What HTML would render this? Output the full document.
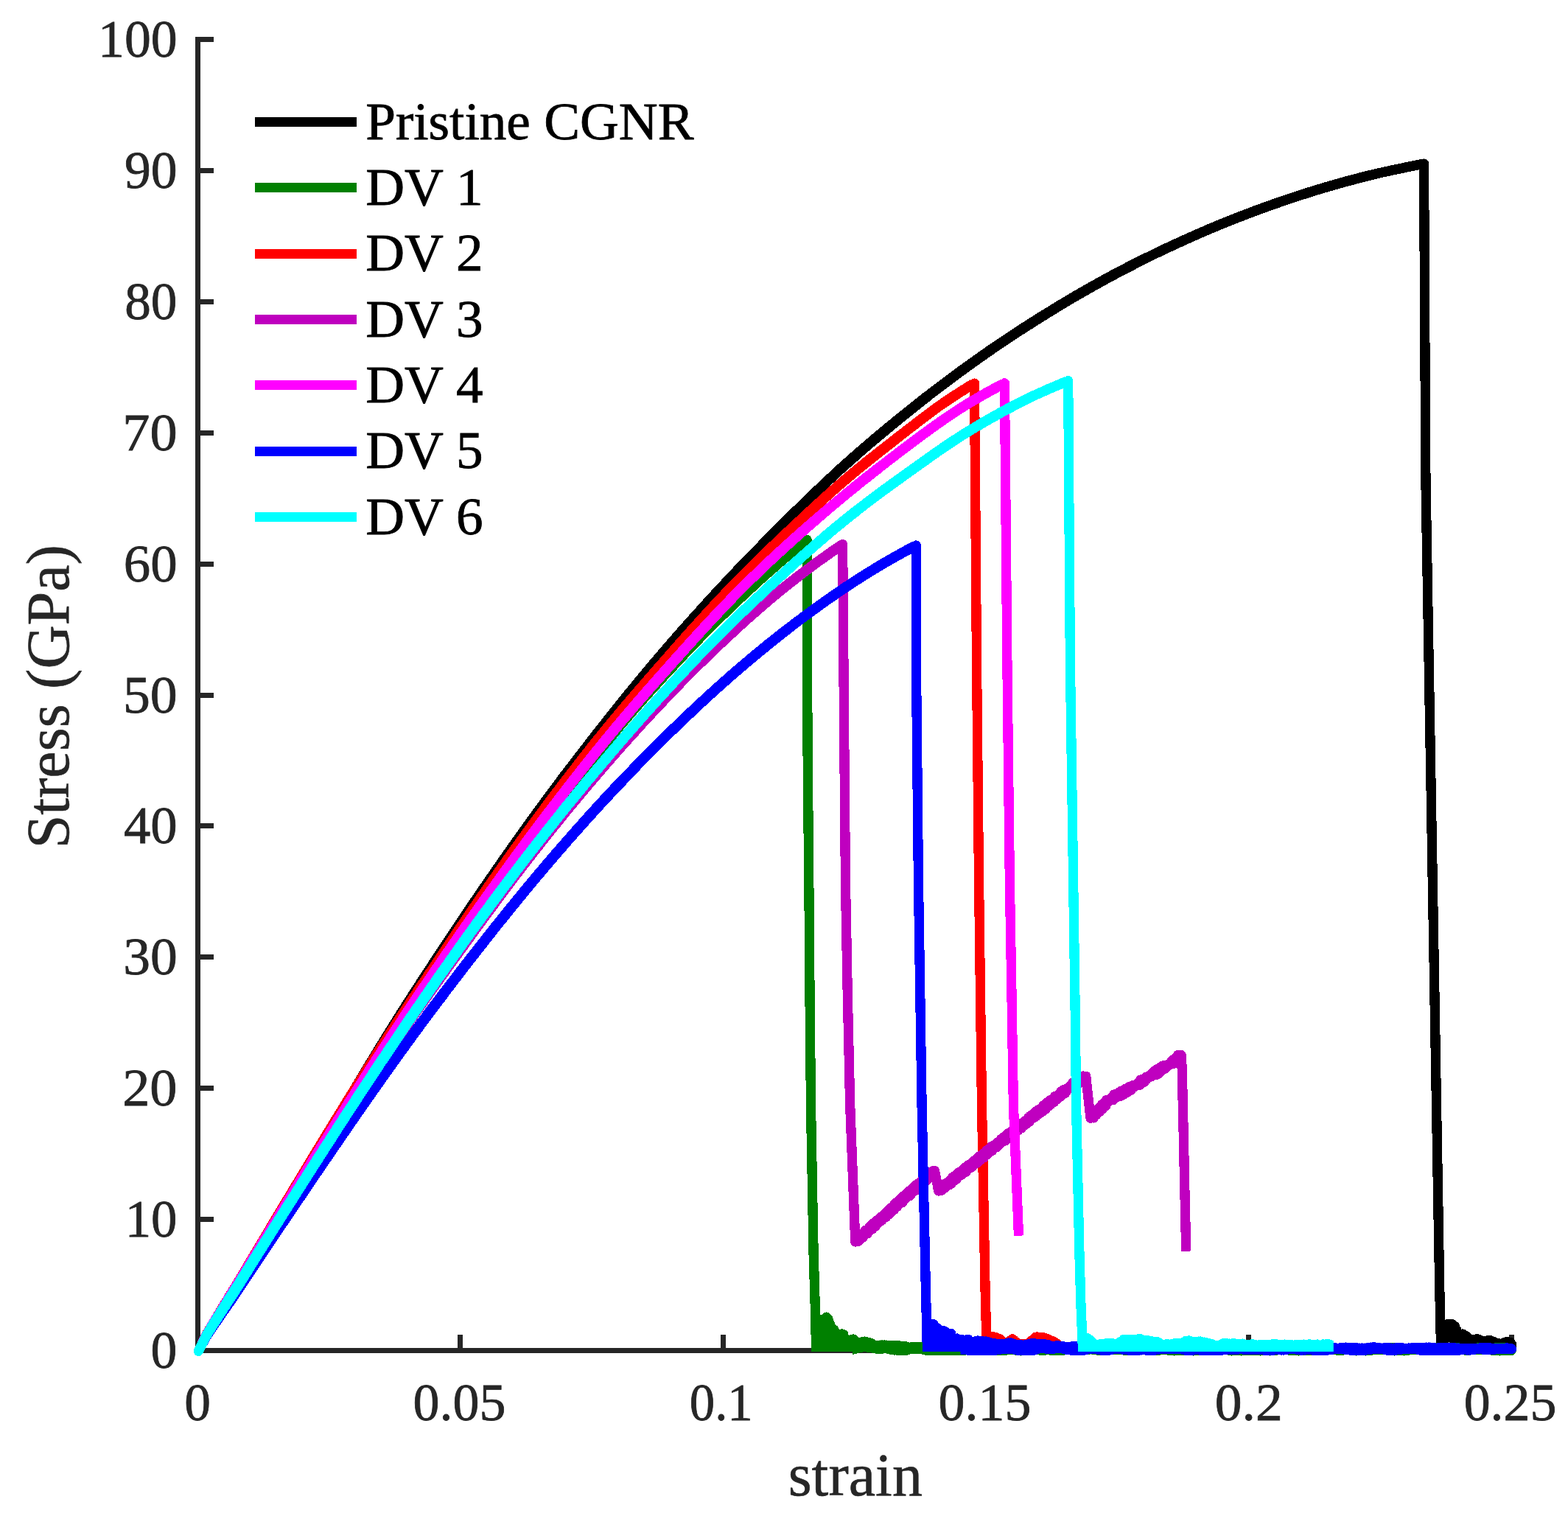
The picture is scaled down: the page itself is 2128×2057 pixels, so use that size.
<!DOCTYPE html>
<html lang="en"><head><meta charset="utf-8"><title>Stress-strain curves</title>
<style>html,body{margin:0;padding:0;background:#fff}body{width:2128px;height:2057px;overflow:hidden}svg{display:block}text{font-family:"Liberation Serif","Times New Roman",serif}.t{font-size:73.0px;fill:#262626;stroke:#262626;stroke-width:0.8}.l{font-size:82.0px;fill:#262626;stroke:#262626;stroke-width:0.6}.g{font-size:73.2px;fill:#000;stroke:#000;stroke-width:0.8}</style></head><body>
<svg width="2128" height="2057" viewBox="0 0 2128 2057" role="img" aria-label="Stress-strain curves for pristine CGNR and DV 1 to DV 6">
<rect width="2128" height="2057" fill="#fff"/>
<g stroke="#262626" stroke-width="7.0" fill="none" stroke-linecap="butt" shape-rendering="crispEdges">
<path d="M268.50,50.00 V1832.50 H2055.00"/>
<path d="M268.50,1654.50 h21.5"/>
<path d="M268.50,1476.50 h21.5"/>
<path d="M268.50,1298.50 h21.5"/>
<path d="M268.50,1120.50 h21.5"/>
<path d="M268.50,943.50 h21.5"/>
<path d="M268.50,765.50 h21.5"/>
<path d="M268.50,587.50 h21.5"/>
<path d="M268.50,409.50 h21.5"/>
<path d="M268.50,231.50 h21.5"/>
<path d="M268.50,53.50 h21.5"/>
<path d="M624.50,1832.50 v-21.5"/>
<path d="M981.50,1832.50 v-21.5"/>
<path d="M1338.50,1832.50 v-21.5"/>
<path d="M1694.50,1832.50 v-21.5"/>
<path d="M2051.50,1832.50 v-21.5"/>
</g>
<g fill="none" stroke="#000000" stroke-linejoin="round" shape-rendering="crispEdges">
<polyline stroke-width="13.25" stroke-linecap="butt" points="269.4,1833.4 274.3,1823.5 279.3,1813.7"/>
<polyline stroke-width="13.5" stroke-linecap="butt" points="274.3,1823.5 279.3,1813.7 285.5,1803.7"/>
<polyline stroke-width="13.75" stroke-linecap="butt" points="279.3,1813.7 285.5,1803.7 291.8,1794.0"/>
<polyline stroke-width="14.0" stroke-linecap="butt" points="285.5,1803.7 291.8,1794.0 298.0,1784.4"/>
<polyline stroke-width="14.25" stroke-linecap="butt" points="291.8,1794.0 298.0,1784.4 304.2,1774.7 310.4,1765.0"/>
<polyline stroke-width="14.5" stroke-linecap="butt" points="304.2,1774.7 310.4,1765.0 316.6,1755.2"/>
<polyline stroke-width="14.75" stroke-linecap="butt" points="310.4,1765.0 316.6,1755.2 322.8,1745.4 328.8,1735.5 334.9,1725.6 340.9,1715.7 346.9,1705.7 353.0,1695.7 359.0,1685.6 365.0,1675.6 371.0,1665.5 377.1,1655.4 383.1,1645.3 389.1,1635.2 395.2,1625.0 401.2,1614.9 407.2,1604.7 413.2,1594.5 419.3,1584.3 425.3,1574.1 431.3,1563.8 437.4,1553.6 443.4,1543.4 449.4,1533.1 455.4,1522.9 461.5,1512.7 467.5,1502.5 473.5,1492.3 479.6,1482.2 485.6,1472.0 491.6,1461.9 497.6,1451.9 503.7,1441.9 509.7,1431.9 515.7,1422.0 521.8,1412.2 527.8,1402.5 533.8,1392.8 539.8,1383.2 545.9,1373.6 551.9,1364.2 557.9,1354.8 564.0,1345.4 570.0,1336.1 576.0,1326.8 582.0,1317.6 588.1,1308.4 594.1,1299.2 600.1,1290.1 606.2,1281.0 612.2,1271.9 618.2,1262.9 624.2,1253.8 630.3,1244.9 636.3,1235.9 642.3,1227.0 648.4,1218.1 654.4,1209.3 660.4,1200.5 666.5,1191.8 672.5,1183.1 678.5,1174.4 684.5,1165.8 690.6,1157.2 696.6,1148.6 702.6,1140.1 708.7,1131.7 714.7,1123.3 720.7,1114.9 726.7,1106.6 732.8,1098.3 738.8,1090.1 744.8,1081.9 750.9,1073.8 756.9,1065.7 762.9,1057.6 768.9,1049.6 775.0,1041.7"/>
<polyline stroke-width="14.5" stroke-linecap="butt" points="768.9,1049.6 775.0,1041.7 781.0,1033.8 787.0,1025.9 793.1,1018.1 799.1,1010.3 805.1,1002.5 811.1,994.8 817.2,987.1 823.2,979.5 829.2,971.8 835.3,964.3 841.3,956.8 847.3,949.3 853.3,941.8 859.4,934.5 865.4,927.1 871.4,919.8 877.5,912.6 883.5,905.4 889.5,898.2 895.5,891.2 901.6,884.1 907.6,877.1 913.6,870.2 919.7,863.3 925.7,856.4 931.7,849.6 937.7,842.9 943.8,836.1 949.8,829.5 955.8,822.8 961.9,816.2 967.9,809.6 973.9,803.1 979.9,796.6 986.0,790.2 992.0,783.8 998.0,777.4 1004.1,771.0"/>
<polyline stroke-width="14.25" stroke-linecap="butt" points="998.0,777.4 1004.1,771.0 1010.1,764.7 1016.1,758.4 1022.2,752.2 1028.2,746.0 1034.2,739.9 1040.2,733.7 1046.3,727.6 1052.3,721.6 1058.3,715.6 1064.4,709.6 1070.4,703.6 1076.4,697.6 1082.4,691.7 1088.5,685.8 1094.5,680.0 1100.5,674.1 1106.6,668.3 1112.6,662.6 1118.6,656.9 1124.6,651.2 1130.7,645.6 1136.7,640.0 1142.7,634.5 1148.8,629.1 1154.8,623.7 1160.8,618.4 1166.8,613.1 1172.9,607.9 1178.9,602.7 1184.9,597.6 1191.0,592.5 1197.0,587.5 1203.0,582.5 1209.0,577.5 1215.1,572.6 1221.1,567.7 1227.1,562.8 1233.2,557.9 1239.2,553.1 1245.2,548.3 1251.2,543.5 1257.3,538.8"/>
<polyline stroke-width="14.0" stroke-linecap="butt" points="1251.2,543.5 1257.3,538.8 1263.3,534.1 1269.3,529.5 1275.4,524.9 1281.4,520.4 1287.4,515.9 1293.4,511.4 1299.5,507.0 1305.5,502.5 1311.5,498.2 1317.6,493.8 1323.6,489.5 1329.6,485.2 1335.6,481.0 1341.7,476.8 1347.7,472.6 1353.7,468.5 1359.8,464.4 1365.8,460.4 1371.8,456.4 1377.8,452.4 1383.9,448.5 1389.9,444.6 1395.9,440.8 1402.0,436.9 1408.0,433.1 1414.0,429.3 1420.1,425.6 1426.1,421.9 1432.1,418.2 1438.1,414.5 1444.2,410.9 1450.2,407.3 1456.2,403.7 1462.3,400.2 1468.3,396.7 1474.3,393.3 1480.3,389.9 1486.4,386.5 1492.4,383.2 1498.4,379.8 1504.5,376.6 1510.5,373.3 1516.5,370.1 1522.5,366.9 1528.6,363.8 1534.6,360.7 1540.6,357.6"/>
<polyline stroke-width="13.75" stroke-linecap="butt" points="1534.6,360.7 1540.6,357.6 1546.7,354.6 1552.7,351.5 1558.7,348.6 1564.7,345.6 1570.8,342.7 1576.8,339.8 1582.8,337.0 1588.9,334.2 1594.9,331.4 1600.9,328.6 1606.9,325.9 1613.0,323.2 1619.0,320.5 1625.0,317.8 1631.1,315.2 1637.1,312.6 1643.1,310.0 1649.1,307.5 1655.2,305.0 1661.2,302.5 1667.2,300.1 1673.3,297.7 1679.3,295.3 1685.3,293.0 1691.3,290.7 1697.4,288.4 1703.4,286.1 1709.4,283.9 1715.5,281.7 1721.5,279.5 1727.5,277.4 1733.5,275.3 1739.6,273.2 1745.6,271.1 1751.6,269.1 1757.7,267.1 1763.7,265.1 1769.7,263.2 1775.8,261.3 1781.8,259.4 1787.8,257.5 1793.8,255.7 1799.9,253.9 1805.9,252.2 1811.9,250.4 1818.0,248.7 1824.0,247.0 1830.0,245.4 1836.0,243.8 1842.1,242.2 1848.1,240.6 1854.1,239.1 1860.2,237.7 1866.2,236.2"/>
<polyline stroke-width="13.5" stroke-linecap="butt" points="1860.2,237.7 1866.2,236.2 1872.2,234.8 1878.2,233.4 1884.3,232.1 1890.3,230.8 1896.3,229.5 1902.4,228.3 1908.4,227.0 1914.4,225.8 1920.4,224.5 1926.5,223.3 1930.1,222.6"/>
<circle cx="269.4" cy="1833.4" r="6.62" fill="#000000" stroke="none"/>
<circle cx="1932.5" cy="222.1" r="6.65" fill="#000000" stroke="none"/>
<clipPath id="cblack"><path d="M0,0H2128.0 V2057 H2128.0 V1834.0 H0Z"/></clipPath>
<g clip-path="url(#cblack)">
<polyline stroke-width="13.3" stroke-linecap="butt" points="1932.5,222.1 1934.9,650.0 1953.8,1750.0 1955.5,1824.0"/>
<polyline stroke-width="13.0" stroke-linecap="round" points="1956.5,1814.8 1957.8,1822.1 1959.1,1811.4 1960.4,1819.0 1961.7,1803.4 1963.0,1815.7 1964.3,1796.7 1965.6,1814.3 1966.9,1796.5 1968.2,1814.5 1969.5,1796.1 1970.8,1816.4 1972.1,1797.5 1973.4,1822.9 1974.7,1799.5 1976.0,1826.5 1977.3,1805.2 1978.6,1826.9 1979.9,1811.0 1981.2,1827.0 1982.5,1809.9 1983.8,1827.0 1985.1,1809.9 1986.4,1827.0 1987.7,1811.5 1989.0,1827.0 1990.3,1813.2 1991.6,1827.0 1992.9,1815.5 1994.2,1827.0 1995.5,1817.7 1996.8,1827.0 1998.1,1817.7 1999.4,1826.9 2000.7,1817.3 2002.0,1826.9 2003.3,1816.8 2004.6,1826.5 2005.9,1816.9 2007.2,1825.9 2008.5,1818.2 2009.8,1825.8 2011.1,1819.6 2012.4,1826.1 2013.7,1819.6 2015.0,1826.4 2016.3,1819.2 2017.6,1826.7 2018.9,1818.8 2020.2,1826.9 2021.5,1818.3 2022.8,1827.0 2024.1,1819.2 2025.4,1827.0 2026.7,1820.2 2028.0,1827.0 2029.3,1821.3 2030.6,1827.0 2031.9,1822.1 2033.2,1827.0 2034.5,1822.8 2035.8,1826.9 2037.1,1823.4 2038.4,1826.5 2039.7,1822.4 2041.0,1825.9 2042.3,1821.3 2043.6,1825.5 2044.9,1820.2 2046.2,1825.6 2047.5,1820.7 2048.8,1826.1 2050.1,1821.3 2051.4,1826.3 2051.7,1824.2"/>
</g>
</g>
<g fill="none" stroke="#008000" stroke-linejoin="round" shape-rendering="crispEdges">
<polyline stroke-width="13.25" stroke-linecap="butt" points="269.4,1833.4 274.3,1823.1 279.4,1812.7"/>
<polyline stroke-width="13.5" stroke-linecap="butt" points="274.3,1823.1 279.4,1812.7 285.7,1802.4"/>
<polyline stroke-width="13.75" stroke-linecap="butt" points="279.4,1812.7 285.7,1802.4 292.0,1792.4"/>
<polyline stroke-width="14.0" stroke-linecap="butt" points="285.7,1802.4 292.0,1792.4 298.2,1782.4"/>
<polyline stroke-width="14.25" stroke-linecap="butt" points="292.0,1792.4 298.2,1782.4 304.5,1772.4"/>
<polyline stroke-width="14.5" stroke-linecap="butt" points="298.2,1782.4 304.5,1772.4 310.7,1762.5 317.0,1752.6"/>
<polyline stroke-width="14.75" stroke-linecap="butt" points="310.7,1762.5 317.0,1752.6 323.2,1742.6 329.3,1732.7 335.4,1722.7 341.5,1712.8 347.6,1702.8 353.6,1692.9 359.7,1683.0 365.8,1673.1 371.9,1663.2 377.9,1653.3 384.0,1643.4 390.1,1633.6 396.2,1623.8 402.3,1614.0 408.3,1604.2 414.4,1594.4 420.5,1584.7 426.6,1575.0 432.6,1565.3 438.7,1555.7 444.8,1546.1 450.9,1536.5 457.0,1526.9 463.0,1517.3 469.1,1507.8 475.2,1498.3 481.3,1488.8 487.3,1479.3 493.4,1469.9 499.5,1460.4 505.6,1451.1 511.7,1441.7 517.7,1432.4 523.8,1423.1 529.9,1413.9 536.0,1404.7 542.0,1395.5 548.1,1386.4 554.2,1377.3 560.3,1368.2 566.4,1359.2 572.4,1350.3 578.5,1341.3 584.6,1332.5 590.7,1323.6 596.7,1314.8 602.8,1306.1 608.9,1297.3 615.0,1288.7 621.0,1280.0 627.1,1271.5 633.2,1262.9 639.3,1254.4 645.4,1245.9 651.4,1237.4 657.5,1229.0 663.6,1220.5 669.7,1212.1 675.7,1203.7 681.8,1195.2 687.9,1186.8 694.0,1178.3 700.1,1169.9 706.1,1161.4 712.2,1153.0 718.3,1144.6 724.4,1136.2 730.4,1127.9 736.5,1119.6 742.6,1111.3 748.7,1103.1 754.8,1094.9 760.8,1086.8 766.9,1078.7 773.0,1070.6 779.1,1062.6"/>
<polyline stroke-width="14.5" stroke-linecap="butt" points="773.0,1070.6 779.1,1062.6 785.1,1054.7 791.2,1046.8 797.3,1039.0 803.4,1031.2 809.5,1023.5 815.5,1015.9 821.6,1008.3 827.7,1000.8 833.8,993.5 839.8,986.2 845.9,979.0 852.0,971.8 858.1,964.8 864.2,957.8 870.2,950.9 876.3,944.0 882.4,937.2 888.5,930.5 894.5,923.8 900.6,917.1 906.7,910.5 912.8,904.0 918.9,897.5 924.9,891.0 931.0,884.6"/>
<polyline stroke-width="14.25" stroke-linecap="butt" points="924.9,891.0 931.0,884.6 937.1,878.3 943.2,872.0 949.2,865.7 955.3,859.5 961.4,853.4 967.5,847.3 973.5,841.3 979.6,835.3 985.7,829.4 991.8,823.5 997.9,817.7 1003.9,812.0 1010.0,806.3 1016.1,800.6 1022.2,795.0 1028.2,789.4 1034.3,783.9 1040.4,778.5 1046.5,773.1 1052.6,767.7 1058.6,762.4 1064.7,757.2 1070.8,752.1 1076.9,747.0 1082.9,742.1 1089.0,737.2 1093.1,733.9"/>
<circle cx="269.4" cy="1833.4" r="6.62" fill="#008000" stroke="none"/>
<circle cx="1095.1" cy="732.3" r="6.65" fill="#008000" stroke="none"/>
<clipPath id="cgreen"><path d="M0,0H2128.0 V2057 H1157.0 V1834.0 H0Z"/></clipPath>
<g clip-path="url(#cgreen)">
<polyline stroke-width="13.3" stroke-linecap="butt" points="1095.1,732.3 1096.0,1010.0 1098.3,1250.0 1099.0,1350.0 1100.5,1500.0 1104.1,1700.0 1106.5,1780.0 1107.5,1826.0 1107.6,1845.0"/>
<polyline stroke-width="13.0" stroke-linecap="round" points="1108.6,1808.6 1109.9,1839.4 1111.2,1802.9 1112.5,1839.4 1113.8,1790.3 1115.1,1839.4 1116.4,1790.2 1117.7,1839.4 1119.0,1790.6 1120.3,1839.4 1121.6,1786.9 1122.9,1839.4 1124.2,1789.6 1125.5,1839.4 1126.8,1796.7 1128.1,1839.4 1129.4,1802.0 1130.7,1839.4 1132.0,1804.1 1133.3,1839.4 1134.6,1809.5 1135.9,1839.4 1137.2,1809.7 1138.5,1839.4 1139.8,1811.9 1141.1,1839.4 1142.4,1809.7 1143.7,1839.4 1145.0,1810.7 1146.3,1834.9 1147.6,1817.3 1148.9,1831.9 1150.2,1818.0 1151.5,1831.6 1152.8,1818.0 1154.1,1831.6 1155.4,1817.4 1156.7,1831.5 1158.0,1816.9 1159.3,1831.0 1160.6,1819.2 1161.9,1830.1 1163.2,1821.5 1164.5,1829.2 1165.8,1821.4 1167.1,1828.6 1168.4,1820.9 1169.7,1828.1 1171.0,1820.1 1172.3,1827.8 1173.6,1820.0 1174.9,1828.0 1176.2,1820.7 1177.5,1828.3 1178.8,1821.3 1180.1,1828.5 1181.4,1822.0 1182.7,1828.9 1184.0,1823.4 1185.3,1829.4 1186.6,1825.2 1187.9,1829.9 1189.2,1826.0 1190.5,1830.4 1191.8,1825.7 1193.1,1830.8 1194.4,1825.0 1195.7,1830.6 1197.0,1824.9 1198.3,1830.1 1199.6,1824.9 1200.9,1830.0 1202.2,1825.0 1203.5,1830.1 1204.8,1825.1 1206.1,1830.5 1207.4,1825.2 1208.7,1831.2 1210.0,1825.3 1211.3,1831.8 1212.6,1825.4 1213.9,1832.1 1215.2,1825.6 1216.5,1832.1 1217.8,1825.8 1219.1,1832.2 1220.4,1825.9 1221.7,1832.4 1223.0,1826.0 1224.3,1832.6 1225.6,1826.1 1226.9,1832.7 1228.2,1826.5 1229.5,1832.4 1230.8,1827.4 1232.1,1831.7 1233.4,1828.0 1234.7,1831.0 1236.0,1827.9 1237.3,1830.7 1238.6,1827.3 1239.9,1830.6 1241.2,1827.1 1242.5,1830.6 1243.8,1827.2 1245.1,1830.7 1246.4,1827.3 1247.7,1830.7 1249.0,1827.3 1250.3,1830.8 1251.6,1827.3 1252.9,1831.2 1254.2,1827.3 1255.5,1831.9 1256.8,1827.3 1258.1,1832.7 1259.4,1827.4 1260.7,1833.0 1262.0,1827.5 1263.3,1833.0 1264.6,1827.5 1265.9,1833.0 1267.2,1827.6 1268.5,1833.0 1269.8,1827.7 1271.1,1833.0 1272.4,1827.8 1273.7,1833.0 1275.0,1827.8 1276.3,1832.9 1277.6,1828.0 1278.9,1832.7 1280.2,1828.1 1281.5,1832.6 1282.8,1828.3 1284.1,1832.8 1285.4,1828.5 1286.7,1832.9 1288.0,1828.7 1289.3,1833.0 1290.6,1828.9 1291.9,1833.0 1293.2,1829.1 1294.5,1832.9 1295.8,1829.2 1297.1,1832.9 1298.4,1829.4 1299.7,1832.9 1301.0,1829.4 1302.3,1833.0 1303.6,1829.1 1304.9,1832.9 1306.2,1828.5 1307.5,1832.7 1308.8,1828.4 1310.1,1832.1 1311.4,1828.4 1312.7,1831.5 1314.0,1828.6 1315.3,1831.4 1316.6,1829.4 1317.9,1831.4 1319.2,1829.7 1320.5,1831.5 1321.8,1829.6 1323.1,1831.4 1324.4,1829.2 1325.7,1831.3 1327.0,1829.1 1328.3,1831.2 1329.6,1829.4 1330.9,1831.2 1332.2,1829.6 1333.5,1831.5 1334.8,1829.7 1336.1,1832.7 1337.4,1829.6 1338.7,1833.0 1340.0,1829.2 1341.3,1833.0 1342.6,1828.6 1343.9,1832.7 1345.2,1828.5 1346.5,1832.0 1347.8,1828.4 1349.1,1831.7 1350.4,1828.4 1351.7,1831.9 1353.0,1828.4 1354.3,1832.5 1355.6,1828.5 1356.9,1832.8 1358.2,1828.5 1359.5,1832.8 1360.8,1828.7 1362.1,1832.8 1363.4,1828.9 1364.7,1832.5 1366.0,1829.6 1367.3,1832.0 1368.6,1829.8 1369.9,1831.5 1371.2,1829.8 1372.5,1831.4 1373.8,1829.8 1375.1,1831.5 1376.4,1829.8 1377.7,1832.1 1379.0,1829.8 1380.3,1832.8 1381.6,1829.8 1382.9,1833.0 1384.2,1829.7 1385.5,1833.0 1386.8,1829.7 1388.1,1833.0 1389.4,1829.4 1390.7,1833.0 1392.0,1829.0 1393.3,1833.0 1394.6,1828.7 1395.9,1832.6 1397.2,1828.6 1398.5,1831.9 1399.8,1828.8 1401.1,1831.6 1402.4,1829.2 1403.7,1831.7 1405.0,1829.5 1406.3,1831.8 1407.6,1829.3 1408.9,1832.0 1410.2,1829.0 1411.5,1832.3 1412.8,1828.8 1414.1,1832.4 1415.4,1828.8 1416.7,1832.3 1418.0,1829.0 1419.3,1832.1 1420.6,1829.3 1421.9,1831.9 1423.2,1829.7 1424.5,1832.0 1425.8,1829.8 1427.1,1832.5 1428.4,1829.8 1429.7,1832.8 1431.0,1829.8 1432.3,1832.9 1433.6,1829.6 1434.9,1832.9 1436.2,1828.8 1437.5,1832.9 1438.8,1828.5 1440.1,1832.8 1441.4,1828.5 1442.7,1832.3 1444.0,1828.6 1445.3,1831.7 1446.6,1828.8 1447.9,1831.4 1449.2,1828.9 1450.5,1831.4 1451.8,1828.8 1453.1,1831.8 1454.4,1828.7 1455.7,1832.6 1457.0,1828.7 1458.3,1832.9 1459.6,1828.7 1460.9,1832.8 1462.2,1828.7 1463.5,1832.2 1464.8,1829.2 1466.1,1831.4 1467.4,1829.7 1468.7,1831.2 1470.0,1829.8 1471.3,1831.2 1472.6,1829.8 1473.9,1831.2 1475.2,1829.8 1476.5,1831.2 1477.8,1829.8 1479.1,1831.2 1480.4,1829.8 1481.7,1831.2 1483.0,1829.8 1484.3,1831.3 1485.6,1829.7 1486.9,1831.8 1488.2,1829.4 1489.5,1832.3 1490.8,1829.0 1492.1,1832.3 1493.4,1828.7 1494.7,1831.9 1496.0,1828.6 1497.3,1831.5 1498.6,1828.5 1499.9,1831.4 1501.2,1828.6 1502.5,1831.4 1503.8,1829.0 1505.1,1831.4 1506.4,1829.3 1507.7,1831.4 1509.0,1828.9 1510.3,1831.4 1511.6,1828.5 1512.9,1831.4 1514.2,1828.5 1515.5,1831.5 1516.8,1828.5 1518.1,1831.6 1519.4,1828.5 1520.7,1831.7 1522.0,1828.5 1523.3,1832.0 1524.6,1828.6 1525.9,1832.5 1527.2,1828.9 1528.5,1832.8 1529.8,1829.7 1531.1,1833.0 1532.4,1829.8 1533.7,1833.0 1535.0,1829.8 1536.3,1833.0 1537.6,1829.8 1538.9,1832.9 1540.2,1829.5 1541.5,1832.3 1542.8,1829.1 1544.1,1831.6 1545.4,1829.0 1546.7,1831.4 1548.0,1829.3 1549.3,1831.4 1550.6,1829.6 1551.9,1831.4 1553.2,1829.6 1554.5,1831.5 1555.8,1829.6 1557.1,1831.7 1558.4,1829.6 1559.7,1832.0 1561.0,1829.6 1562.3,1832.5 1563.6,1829.5 1564.9,1832.8 1566.2,1829.1 1567.5,1832.9 1568.8,1828.9 1570.1,1832.8 1571.4,1829.0 1572.7,1832.4 1574.0,1829.2 1575.3,1831.6 1576.6,1829.1 1577.9,1831.3 1579.2,1828.7 1580.5,1831.3 1581.8,1828.6 1583.1,1831.4 1584.4,1828.5 1585.7,1832.2 1587.0,1828.5 1588.3,1832.9 1589.6,1828.6 1590.9,1833.0 1592.2,1828.7 1593.5,1833.0 1594.8,1828.6 1596.1,1833.0 1597.4,1828.5 1598.7,1833.0 1600.0,1828.5 1601.3,1833.0 1602.6,1828.6 1603.9,1832.9 1605.2,1829.0 1606.5,1832.8 1607.8,1829.6 1609.1,1832.8 1610.4,1829.8 1611.7,1832.9 1613.0,1829.7 1614.3,1833.0 1615.6,1829.3 1616.9,1833.0 1618.2,1828.9 1619.5,1833.0 1620.8,1828.8 1622.1,1833.0 1623.4,1828.7 1624.7,1833.0 1626.0,1828.6 1627.3,1832.9 1628.6,1828.6 1629.9,1832.6 1631.2,1828.6 1632.5,1832.3 1633.8,1828.9 1635.1,1832.3 1636.4,1829.4 1637.7,1832.4 1639.0,1829.6 1640.3,1832.5 1641.6,1829.4 1642.9,1832.6 1644.2,1828.9 1645.5,1832.7 1646.8,1828.6 1648.1,1832.7 1649.4,1828.6 1650.7,1832.6 1652.0,1828.6 1653.3,1832.2 1654.6,1828.6 1655.9,1831.7 1657.2,1828.6 1658.5,1831.4 1659.8,1828.6 1661.1,1831.3 1662.4,1828.7 1663.7,1831.4 1665.0,1828.8 1666.3,1831.9 1667.6,1828.9 1668.9,1832.7 1670.2,1828.9 1671.5,1833.0 1672.8,1829.2 1674.1,1833.0 1675.4,1829.7 1676.7,1833.0 1678.0,1829.8 1679.3,1833.0 1680.6,1829.8 1681.9,1833.0 1683.2,1829.9 1684.5,1833.0 1685.8,1829.8 1687.1,1832.9 1688.4,1829.5 1689.7,1832.8 1691.0,1829.2 1692.3,1832.6 1693.6,1829.2 1694.9,1832.7 1696.2,1829.6 1697.5,1832.9 1698.8,1829.8 1700.1,1833.0 1701.4,1829.9 1702.7,1833.0 1704.0,1829.9 1705.3,1833.0 1706.6,1829.9 1707.9,1833.0 1709.2,1829.9 1710.5,1833.0 1711.8,1829.8 1713.1,1833.0 1714.4,1829.6 1715.7,1833.0 1717.0,1829.3 1718.3,1833.0 1719.6,1829.0 1720.9,1833.0 1722.2,1828.9 1723.5,1833.0 1724.8,1828.9 1726.1,1833.0 1727.4,1829.0 1728.7,1832.9 1730.0,1829.4 1731.3,1832.5 1732.6,1829.8 1733.9,1831.7 1735.2,1829.9 1736.5,1831.3 1737.8,1829.9 1739.1,1831.3 1740.4,1829.9 1741.7,1831.3 1743.0,1829.9 1744.3,1831.3 1745.6,1829.8 1746.9,1831.6 1748.2,1829.8 1749.5,1832.2 1750.8,1829.7 1752.1,1832.7 1753.4,1829.5 1754.7,1832.9 1756.0,1829.3 1757.3,1833.0 1758.6,1829.2 1759.9,1833.0 1761.2,1829.4 1762.5,1833.0 1763.8,1829.5 1765.1,1833.0 1766.4,1829.4 1767.7,1833.0 1769.0,1829.2 1770.3,1832.9 1771.6,1829.1 1772.9,1832.7 1774.2,1829.1 1775.5,1832.6 1776.8,1829.1 1778.1,1832.5 1779.4,1829.3 1780.7,1832.3 1782.0,1829.6 1783.3,1832.0 1784.6,1829.7 1785.9,1831.8 1787.2,1829.6 1788.5,1831.7 1789.8,1829.3 1791.1,1831.8 1792.4,1829.0 1793.7,1832.1 1795.0,1829.1 1796.3,1832.3 1797.6,1829.5 1798.9,1832.0 1800.2,1829.9 1801.5,1831.6 1802.8,1829.9 1804.1,1831.4 1805.4,1829.9 1806.7,1831.4 1808.0,1829.9 1809.3,1831.5 1810.6,1829.9 1811.9,1831.8 1813.2,1829.8 1814.5,1832.2 1815.8,1829.8 1817.1,1832.5 1818.4,1829.8 1819.7,1832.5 1821.0,1829.8 1822.3,1832.3 1823.6,1829.7 1824.9,1832.0 1826.2,1829.3 1827.5,1831.9 1828.8,1828.9 1830.1,1832.0 1831.4,1828.8 1832.7,1832.4 1834.0,1828.7 1835.3,1832.9 1836.6,1828.7 1837.9,1833.0 1839.2,1828.8 1840.5,1833.0 1841.8,1829.3 1843.1,1833.0 1844.4,1829.7 1845.7,1833.0 1847.0,1829.8 1848.3,1833.0 1849.6,1829.8 1850.9,1833.0 1852.2,1829.6 1853.5,1833.0 1854.8,1829.3 1856.1,1833.0 1857.4,1829.3 1858.7,1832.8 1860.0,1829.4 1861.3,1832.2 1862.6,1829.7 1863.9,1831.7 1865.2,1829.9 1866.5,1831.5 1867.8,1829.9 1869.1,1831.4 1870.4,1829.9 1871.7,1831.4 1873.0,1829.9 1874.3,1831.3 1875.6,1829.3 1876.9,1831.3 1878.2,1828.8 1879.5,1831.4 1880.8,1828.7 1882.1,1831.5 1883.4,1828.7 1884.7,1831.8 1886.0,1828.7 1887.3,1832.5 1888.6,1828.7 1889.9,1832.9 1891.2,1828.7 1892.5,1833.0 1893.8,1828.7 1895.1,1833.0 1896.4,1828.7 1897.7,1833.0 1899.0,1828.7 1900.3,1833.0 1901.6,1829.0 1902.9,1833.0 1904.2,1829.5 1905.5,1833.0 1906.8,1829.8 1908.1,1833.0 1909.4,1829.8 1910.7,1832.6 1912.0,1829.8 1913.3,1831.8 1914.6,1829.7 1915.9,1831.4 1917.2,1829.6 1918.5,1831.3 1919.8,1829.3 1921.1,1831.3 1922.4,1829.0 1923.7,1831.3 1925.0,1829.0 1926.3,1831.3 1927.6,1829.2 1928.9,1831.3 1930.2,1829.5 1931.5,1831.3 1932.8,1829.5 1934.1,1831.3 1935.4,1829.2 1936.7,1831.3 1938.0,1829.1 1939.3,1831.4 1940.6,1828.9 1941.9,1831.5 1943.2,1828.8 1944.5,1831.6 1945.8,1828.7 1947.1,1831.6 1948.4,1828.7 1949.7,1831.6 1951.0,1829.2 1952.3,1831.5 1953.6,1829.8 1954.9,1831.5 1956.2,1829.8 1957.5,1831.6 1958.8,1829.4 1960.1,1832.1 1961.4,1828.9 1962.7,1832.7 1964.0,1828.7 1965.3,1832.9 1966.6,1828.7 1967.9,1832.8 1969.2,1828.7 1970.5,1832.4 1971.8,1828.8 1973.1,1831.8 1974.4,1828.9 1975.7,1831.5 1977.0,1828.9 1978.3,1831.5 1979.6,1828.8 1980.9,1831.5 1982.2,1829.0 1983.5,1831.7 1984.8,1829.4 1986.1,1832.0 1987.4,1829.9 1988.7,1832.4 1990.0,1830.0 1991.3,1832.6 1992.6,1830.0 1993.9,1832.5 1995.2,1830.0 1996.5,1832.0 1997.8,1829.9 1999.1,1831.5 2000.4,1829.5 2001.7,1831.3 2003.0,1829.0 2004.3,1831.3 2005.6,1828.9 2006.9,1831.3 2008.2,1828.9 2009.5,1831.3 2010.8,1829.0 2012.1,1831.3 2013.4,1829.5 2014.7,1831.3 2016.0,1829.7 2017.3,1831.4 2018.6,1829.7 2019.9,1831.5 2021.2,1829.6 2022.5,1831.8 2023.8,1829.4 2025.1,1832.3 2026.4,1829.1 2027.7,1832.8 2029.0,1828.9 2030.3,1833.0 2031.6,1828.8 2032.9,1833.0 2034.2,1828.8 2035.5,1833.0 2036.8,1828.7 2038.1,1833.0 2039.4,1828.8 2040.7,1832.9 2042.0,1828.9 2043.3,1832.9 2044.6,1829.5 2045.9,1832.9 2047.2,1830.0 2048.5,1832.9 2049.8,1830.0 2051.1,1832.8 2051.7,1830.5"/>
</g>
</g>
<g fill="none" stroke="#ff0000" stroke-linejoin="round" shape-rendering="crispEdges">
<polyline stroke-width="13.25" stroke-linecap="butt" points="269.4,1833.4 274.3,1822.9 279.4,1812.4"/>
<polyline stroke-width="13.5" stroke-linecap="butt" points="274.3,1822.9 279.4,1812.4 285.6,1801.9"/>
<polyline stroke-width="13.75" stroke-linecap="butt" points="279.4,1812.4 285.6,1801.9 291.9,1791.7"/>
<polyline stroke-width="14.0" stroke-linecap="butt" points="285.6,1801.9 291.9,1791.7 298.1,1781.6"/>
<polyline stroke-width="14.25" stroke-linecap="butt" points="291.9,1791.7 298.1,1781.6 304.3,1771.4 310.6,1761.3"/>
<polyline stroke-width="14.5" stroke-linecap="butt" points="304.3,1771.4 310.6,1761.3 316.8,1751.2"/>
<polyline stroke-width="14.75" stroke-linecap="butt" points="310.6,1761.3 316.8,1751.2 323.1,1741.1 329.1,1730.9 335.2,1720.7 341.2,1710.6 347.3,1700.4 353.4,1690.2 359.4,1680.1 365.5,1669.9 371.5,1659.8 377.6,1649.7 383.6,1639.6 389.7,1629.5 395.8,1619.4 401.8,1609.3 407.9,1599.3 413.9,1589.2 420.0,1579.2 426.0,1569.2 432.1,1559.2 438.2,1549.3 444.2,1539.3 450.3,1529.4 456.3,1519.5 462.4,1509.7 468.4,1499.8 474.5,1490.0 480.6,1480.2 486.6,1470.5 492.7,1460.8 498.7,1451.1 504.8,1441.4 510.8,1431.8 516.9,1422.3 523.0,1412.8 529.0,1403.4 535.1,1394.0 541.1,1384.7 547.2,1375.5 553.2,1366.3 559.3,1357.1 565.4,1348.0 571.4,1338.9 577.5,1329.9 583.5,1320.8 589.6,1311.8 595.6,1302.8 601.7,1293.7 607.8,1284.7 613.8,1275.7 619.9,1266.7 625.9,1257.7 632.0,1248.8 638.0,1239.8 644.1,1230.9 650.2,1222.1 656.2,1213.3 662.3,1204.5 668.3,1195.8 674.4,1187.2 680.4,1178.6 686.5,1170.0 692.6,1161.5 698.6,1153.0 704.7,1144.6 710.7,1136.3 716.8,1127.9 722.8,1119.7 728.9,1111.4 735.0,1103.2 741.0,1095.1 747.1,1087.0 753.1,1078.9 759.2,1070.9 765.2,1062.9"/>
<polyline stroke-width="14.5" stroke-linecap="butt" points="759.2,1070.9 765.2,1062.9 771.3,1054.9 777.4,1047.1 783.4,1039.2 789.5,1031.4 795.5,1023.7 801.6,1016.0 807.6,1008.4 813.7,1000.9 819.8,993.4 825.8,986.0 831.9,978.7 837.9,971.4 844.0,964.2 850.0,957.0 856.1,949.9 862.2,942.8 868.2,935.8 874.3,928.8 880.3,921.8 886.4,914.8 892.4,907.9 898.5,901.0 904.6,894.1 910.6,887.2 916.7,880.3 922.7,873.4 928.8,866.6 934.8,859.8 940.9,853.0 947.0,846.3 953.0,839.6 959.1,833.0 965.1,826.4 971.2,819.9 977.2,813.4 983.3,807.0 989.4,800.6"/>
<polyline stroke-width="14.25" stroke-linecap="butt" points="983.3,807.0 989.4,800.6 995.4,794.3 1001.5,788.1 1007.5,781.9 1013.6,775.8 1019.6,769.8 1025.7,763.8 1031.8,757.8 1037.8,751.9 1043.9,746.0 1049.9,740.2 1056.0,734.4 1062.0,728.6 1068.1,722.9 1074.2,717.2 1080.2,711.5 1086.3,705.9 1092.3,700.2 1098.4,694.6 1104.4,689.0 1110.5,683.5 1116.6,677.9 1122.6,672.5 1128.7,667.0 1134.7,661.7 1140.8,656.4 1146.8,651.2 1152.9,646.0 1159.0,640.9 1165.0,635.9 1171.1,631.0 1177.1,626.1 1183.2,621.3 1189.2,616.5 1195.3,611.7 1201.4,607.0 1207.4,602.3 1213.5,597.5 1219.5,592.8"/>
<polyline stroke-width="14.0" stroke-linecap="butt" points="1213.5,597.5 1219.5,592.8 1225.6,588.1 1231.6,583.4 1237.7,578.7 1243.8,574.0 1249.8,569.4 1255.9,564.8 1261.9,560.3 1268.0,555.8 1274.0,551.4 1280.1,547.2 1286.2,543.0 1292.2,539.0 1298.3,535.1 1304.3,531.2 1310.4,527.4 1316.4,523.7 1320.4,521.3"/>
<circle cx="269.4" cy="1833.4" r="6.62" fill="#ff0000" stroke="none"/>
<circle cx="1322.5" cy="520.0" r="6.65" fill="#ff0000" stroke="none"/>
<clipPath id="cred"><path d="M0,0H2128.0 V2057 H2128.0 V1834.0 H0Z"/></clipPath>
<g clip-path="url(#cred)">
<polyline stroke-width="13.3" stroke-linecap="butt" points="1322.5,520.0 1325.5,900.0 1328.6,1200.0 1330.5,1350.0 1332.5,1500.0 1337.1,1750.0 1339.0,1824.0"/>
<polyline stroke-width="13.0" stroke-linecap="round" points="1340.0,1812.8 1341.3,1826.8 1342.6,1813.1 1343.9,1826.0 1345.2,1813.6 1346.5,1824.0 1347.8,1813.7 1349.1,1823.0 1350.4,1814.1 1351.7,1823.5 1353.0,1815.1 1354.3,1824.8 1355.6,1816.2 1356.9,1826.1 1358.2,1817.5 1359.5,1826.7 1360.8,1820.1 1362.1,1826.9 1363.4,1822.8 1364.7,1826.9 1366.0,1822.0 1367.3,1826.9 1368.6,1820.2 1369.9,1826.9 1371.2,1818.4 1372.5,1826.8 1373.8,1816.6 1375.1,1826.5 1376.4,1818.6 1377.7,1826.1 1379.0,1821.0 1380.3,1825.9 1381.6,1823.3 1382.9,1825.9 1384.2,1823.7 1385.5,1825.7 1386.8,1823.7 1388.1,1825.6 1389.4,1823.7 1390.7,1825.6 1392.0,1823.7 1393.3,1825.6 1394.6,1823.7 1395.9,1825.2 1397.2,1821.6 1398.5,1824.3 1399.8,1819.1 1401.1,1823.6 1402.4,1816.7 1403.7,1823.7 1405.0,1814.3 1406.3,1825.2 1407.6,1813.8 1408.9,1826.6 1410.2,1814.2 1411.5,1826.9 1412.8,1814.5 1414.1,1826.9 1415.4,1814.6 1416.7,1826.9 1418.0,1815.2 1419.3,1826.9 1420.6,1816.1 1421.9,1826.8 1423.2,1817.4 1424.5,1826.3 1425.8,1818.6 1427.1,1824.9 1428.4,1819.6 1429.7,1824.4 1431.0,1820.8 1432.3,1824.9 1433.6,1822.5 1434.9,1825.6 1436.2,1824.3 1437.5,1826.3 1438.8,1826.1 1440.0,1826.5"/>
</g>
</g>
<g fill="none" stroke="#bf00bf" stroke-linejoin="round" shape-rendering="crispEdges">
<polyline stroke-width="13.25" stroke-linecap="butt" points="269.4,1833.4 274.3,1823.3 279.4,1813.1"/>
<polyline stroke-width="13.5" stroke-linecap="butt" points="274.3,1823.3 279.4,1813.1 285.7,1803.0"/>
<polyline stroke-width="13.75" stroke-linecap="butt" points="279.4,1813.1 285.7,1803.0 291.9,1793.2"/>
<polyline stroke-width="14.0" stroke-linecap="butt" points="285.7,1803.0 291.9,1793.2 298.2,1783.4"/>
<polyline stroke-width="14.25" stroke-linecap="butt" points="291.9,1793.2 298.2,1783.4 304.5,1773.7"/>
<polyline stroke-width="14.5" stroke-linecap="butt" points="298.2,1783.4 304.5,1773.7 310.7,1764.0 317.0,1754.2"/>
<polyline stroke-width="14.75" stroke-linecap="butt" points="310.7,1764.0 317.0,1754.2 323.2,1744.5 329.3,1734.8 335.4,1725.1 341.5,1715.4 347.5,1705.7 353.6,1696.0 359.7,1686.3 365.8,1676.6 371.9,1667.0 377.9,1657.4 384.0,1647.8 390.1,1638.2 396.2,1628.6 402.2,1619.0 408.3,1609.4 414.4,1599.9 420.5,1590.4 426.5,1580.9 432.6,1571.4 438.7,1561.9 444.8,1552.4 450.9,1543.0 456.9,1533.6 463.0,1524.2 469.1,1514.8 475.2,1505.5 481.2,1496.1 487.3,1486.9 493.4,1477.6 499.5,1468.4 505.5,1459.2 511.6,1450.0 517.7,1440.9 523.8,1431.9 529.8,1422.9 535.9,1413.9 542.0,1405.0 548.1,1396.2 554.2,1387.4 560.2,1378.7 566.3,1370.0 572.4,1361.4 578.5,1352.8 584.5,1344.3 590.6,1335.8 596.7,1327.3 602.8,1318.9 608.8,1310.4 614.9,1302.0 621.0,1293.6 627.1,1285.2 633.2,1276.8 639.2,1268.5 645.3,1260.1 651.4,1251.8 657.5,1243.5 663.5,1235.3 669.6,1227.1 675.7,1218.9 681.8,1210.8 687.8,1202.7 693.9,1194.7"/>
<polyline stroke-width="14.5" stroke-linecap="butt" points="687.8,1202.7 693.9,1194.7 700.0,1186.7 706.1,1178.8 712.2,1170.9 718.2,1163.1 724.3,1155.3 730.4,1147.6 736.5,1139.9 742.5,1132.3 748.6,1124.7 754.7,1117.2 760.8,1109.7 766.8,1102.2 772.9,1094.8 779.0,1087.5 785.1,1080.1 791.1,1072.9 797.2,1065.7 803.3,1058.5 809.4,1051.4 815.5,1044.3 821.5,1037.2 827.6,1030.3 833.7,1023.3 839.8,1016.4 845.8,1009.6 851.9,1002.8 858.0,996.1 864.1,989.4 870.1,982.7 876.2,976.1 882.3,969.6 888.4,963.1 894.5,956.6 900.5,950.2"/>
<polyline stroke-width="14.25" stroke-linecap="butt" points="894.5,956.6 900.5,950.2 906.6,943.9 912.7,937.6 918.8,931.3 924.8,925.1 930.9,919.0 937.0,912.9 943.1,906.8 949.1,900.8 955.2,894.9 961.3,889.0 967.4,883.1 973.5,877.3 979.5,871.5 985.6,865.8 991.7,860.2 997.8,854.6 1003.8,849.0 1009.9,843.5 1016.0,838.1 1022.1,832.7 1028.1,827.4 1034.2,822.1 1040.3,816.9 1046.4,811.8 1052.4,806.7 1058.5,801.7 1064.6,796.8 1070.7,792.0 1076.8,787.2 1082.8,782.5"/>
<polyline stroke-width="14.0" stroke-linecap="butt" points="1076.8,787.2 1082.8,782.5 1088.9,777.8 1095.0,773.2 1101.1,768.7 1107.1,764.2 1113.2,759.8 1119.3,755.5 1125.4,751.2 1131.4,746.9 1137.5,742.7 1141.5,740.0"/>
<circle cx="269.4" cy="1833.4" r="6.62" fill="#bf00bf" stroke="none"/>
<circle cx="1143.6" cy="738.6" r="6.65" fill="#bf00bf" stroke="none"/>
<polyline stroke-width="13.3" stroke-linecap="butt" points="1143.6,738.6 1145.8,1010.0 1147.5,1200.0 1150.3,1350.0 1153.7,1500.0 1160.8,1685.0 1161.8,1683.3 1162.9,1684.6 1163.9,1680.2 1165.0,1684.4 1166.0,1678.1 1167.1,1681.6 1168.1,1674.9 1169.2,1679.6 1170.2,1674.1 1171.3,1678.9 1172.3,1672.3 1173.3,1676.2 1174.4,1669.2 1175.4,1674.0 1176.5,1668.7 1177.5,1673.6 1178.6,1666.8 1179.6,1670.5 1180.7,1663.6 1181.7,1668.6 1182.8,1661.5 1183.8,1667.8 1184.8,1660.0 1185.9,1664.7 1186.9,1659.4 1188.0,1663.9 1189.0,1656.3 1190.1,1660.9 1191.1,1655.7 1192.2,1659.1 1193.2,1654.0 1194.3,1657.6 1195.3,1651.3 1196.4,1656.2 1197.4,1650.4 1198.4,1653.4 1199.5,1648.4 1200.5,1651.7 1201.6,1646.4 1202.6,1651.2 1203.7,1644.1 1204.7,1647.7 1205.8,1641.6 1206.8,1647.5 1207.9,1639.5 1208.9,1645.0 1209.9,1638.5 1211.0,1642.6 1212.0,1636.8 1213.1,1641.6 1214.1,1633.8 1215.2,1639.0 1216.2,1631.8 1217.3,1637.5 1218.3,1630.3 1219.4,1634.8 1220.4,1629.4 1221.4,1632.8 1222.5,1626.1 1223.5,1632.2 1224.6,1624.3 1225.6,1630.3 1226.7,1622.6 1227.7,1627.7 1228.8,1620.8 1229.8,1625.2 1230.9,1619.1 1231.9,1623.1 1232.9,1616.6 1234.0,1623.0 1235.0,1616.4 1236.1,1620.9 1237.1,1613.2 1238.2,1617.5 1239.2,1611.8 1240.3,1616.4 1241.3,1609.9 1242.4,1615.5 1243.4,1607.8 1244.5,1612.2 1245.5,1606.2 1246.5,1611.1 1247.6,1605.5 1248.6,1608.3 1249.7,1602.9 1250.7,1606.5 1251.8,1601.3 1252.8,1605.7 1253.9,1597.9 1254.9,1603.3 1256.0,1596.7 1257.0,1602.1 1258.0,1594.8 1259.1,1600.0 1260.1,1594.3 1261.2,1598.6 1262.2,1592.1 1263.3,1595.3 1264.3,1589.5 1265.4,1593.5 1266.4,1588.7 1267.5,1590.0 1268.5,1588.5 1269.8,1595.4 1271.1,1602.2 1272.4,1609.1 1273.7,1616.0 1274.8,1614.2 1275.9,1615.8 1277.0,1610.8 1278.1,1615.2 1279.2,1609.8 1280.3,1612.5 1281.4,1606.9 1282.5,1611.6 1283.6,1605.5 1284.7,1609.7 1285.8,1604.3 1286.9,1608.2 1288.0,1602.4 1289.1,1607.4 1290.2,1600.8 1291.3,1605.8 1292.4,1597.7 1293.5,1602.8 1294.6,1596.1 1295.7,1601.5 1296.8,1595.0 1297.9,1600.2 1299.0,1592.5 1300.1,1597.2 1301.2,1590.6 1302.3,1595.1 1303.5,1590.8 1304.6,1594.3 1305.7,1588.4 1306.8,1592.5 1307.9,1586.3 1309.0,1590.8 1310.1,1583.6 1311.2,1590.0 1312.3,1583.1 1313.4,1586.9 1314.5,1580.7 1315.6,1585.0 1316.7,1579.5 1317.8,1584.4 1318.9,1578.6 1320.0,1582.7 1321.1,1575.3 1322.2,1580.2 1323.3,1574.6 1324.4,1578.8 1325.5,1572.7 1326.6,1577.6 1327.7,1570.4 1328.8,1574.8 1329.9,1568.2 1331.0,1573.7 1332.1,1567.8 1333.2,1571.5 1334.3,1565.3 1335.4,1570.9 1336.5,1564.0 1337.6,1568.1 1338.7,1560.8 1339.8,1566.3 1340.9,1559.4 1342.0,1563.9 1343.1,1558.6 1344.2,1562.3 1345.3,1555.8 1346.4,1561.4 1347.5,1555.5 1348.6,1558.7 1349.7,1553.3 1350.8,1556.9 1351.9,1551.4 1353.0,1556.5 1354.1,1550.0 1355.2,1553.6 1356.3,1548.2 1357.4,1551.8 1358.5,1545.4 1359.6,1550.0 1360.7,1543.9 1361.8,1548.7 1363.0,1542.2 1364.1,1547.9 1365.2,1541.7 1366.3,1546.1 1367.4,1538.3 1368.5,1544.0 1369.6,1537.1 1370.7,1541.7 1371.8,1536.4 1372.9,1540.9 1374.0,1533.3 1375.1,1538.0 1376.2,1533.0 1377.3,1536.5 1378.4,1530.2 1379.5,1534.8 1380.6,1527.8 1381.7,1534.0 1382.8,1526.1 1383.9,1531.8 1385.0,1524.7 1386.1,1530.8 1387.2,1524.5 1388.3,1528.3 1389.4,1522.4 1390.5,1527.0 1391.6,1520.6 1392.7,1525.2 1393.8,1518.6 1394.9,1523.2 1396.0,1516.2 1397.1,1522.0 1398.2,1514.0 1399.3,1519.3 1400.4,1512.7 1401.5,1517.0 1402.6,1512.1 1403.7,1516.4 1404.8,1508.7 1405.9,1514.7 1407.0,1507.8 1408.1,1512.7 1409.2,1505.6 1410.3,1510.9 1411.4,1504.6 1412.5,1509.7 1413.6,1502.9 1414.7,1508.1 1415.8,1500.2 1416.9,1506.1 1418.0,1498.4 1419.1,1504.8 1420.2,1496.3 1421.4,1502.0 1422.5,1495.9 1423.6,1500.8 1424.7,1492.9 1425.8,1498.8 1426.9,1493.1 1428.0,1495.8 1429.1,1490.5 1430.2,1495.6 1431.3,1487.8 1432.4,1493.0 1433.5,1486.9 1434.6,1491.6 1435.7,1486.0 1436.8,1488.8 1437.9,1483.4 1439.0,1488.1 1440.1,1480.9 1441.2,1485.7 1442.3,1479.2 1443.4,1484.1 1444.5,1478.1 1445.6,1483.3 1446.7,1477.7 1447.8,1480.2 1448.9,1476.5 1450.0,1476.6 1451.2,1474.9 1452.4,1475.8 1453.6,1471.9 1454.7,1476.5 1455.9,1469.0 1457.1,1473.9 1458.3,1469.0 1459.5,1473.5 1460.7,1467.1 1461.8,1470.3 1463.0,1465.8 1464.2,1469.9 1465.4,1463.2 1466.6,1468.5 1467.8,1461.1 1469.0,1465.4 1470.1,1460.1 1471.3,1463.8 1472.5,1460.3 1473.7,1460.4 1474.4,1466.7 1475.1,1473.0 1475.8,1479.4 1476.5,1485.7 1477.2,1492.0 1477.9,1498.3 1478.6,1504.7 1479.3,1511.0 1480.0,1517.3 1481.0,1515.5 1482.0,1516.5 1483.1,1512.6 1484.1,1516.9 1485.1,1509.7 1486.1,1514.0 1487.2,1507.1 1488.2,1512.4 1489.2,1505.1 1490.2,1510.2 1491.3,1503.4 1492.3,1508.5 1493.3,1501.7 1494.3,1505.4 1495.4,1498.6 1496.4,1504.7 1497.4,1497.0 1498.4,1501.2 1499.5,1496.3 1500.5,1500.8 1501.5,1492.5 1502.5,1496.8 1503.6,1492.6 1504.6,1493.5 1505.6,1492.1 1506.8,1490.8 1508.1,1492.3 1509.3,1488.2 1510.6,1492.8 1511.8,1485.1 1513.0,1490.0 1514.3,1484.2 1515.5,1489.2 1516.7,1483.9 1518.0,1487.7 1519.2,1481.9 1520.5,1487.5 1521.7,1480.0 1522.9,1484.3 1524.2,1480.1 1525.4,1485.0 1526.6,1477.7 1527.9,1482.9 1529.1,1476.7 1530.4,1482.0 1531.6,1475.0 1532.8,1480.1 1534.1,1474.2 1535.3,1479.1 1536.5,1473.0 1537.8,1475.9 1539.0,1472.3 1540.3,1473.9 1541.5,1472.4 1542.7,1471.1 1543.9,1472.1 1545.1,1468.6 1546.3,1472.4 1547.5,1465.3 1548.7,1469.9 1549.9,1464.3 1551.0,1469.2 1552.2,1463.7 1553.4,1467.7 1554.6,1461.8 1555.8,1465.0 1557.0,1460.7 1558.2,1462.3 1559.4,1461.1 1560.6,1459.7 1561.8,1461.1 1563.1,1456.9 1564.3,1459.8 1565.5,1453.8 1566.7,1458.8 1568.0,1453.3 1569.2,1458.7 1570.4,1450.6 1571.6,1457.2 1572.8,1450.3 1574.1,1455.4 1575.3,1447.9 1576.5,1452.7 1577.7,1446.1 1579.0,1451.0 1580.2,1445.3 1581.4,1449.8 1582.6,1445.2 1583.9,1447.1 1585.1,1444.4 1586.3,1444.6 1587.4,1443.2 1588.5,1444.6 1589.6,1440.4 1590.8,1443.5 1591.9,1438.0 1593.0,1443.1 1594.1,1436.5 1595.2,1441.0 1596.3,1434.3 1597.4,1439.4 1598.5,1431.6 1599.7,1435.7 1600.8,1431.7 1601.9,1432.7 1603.0,1431.3 1603.4,1438.2 1603.9,1445.1 1604.3,1452.0 1604.4,1458.1 1604.6,1464.3 1604.7,1470.4 1604.8,1476.6 1605.0,1482.7 1605.1,1488.8 1605.2,1495.0 1605.4,1501.1 1605.5,1507.3 1605.7,1513.4 1605.8,1519.5 1605.9,1525.7 1606.1,1531.8 1606.2,1538.0 1606.3,1544.1 1606.5,1550.2 1606.6,1556.4 1606.7,1562.5 1606.9,1568.7 1607.0,1574.8 1607.1,1580.9 1607.3,1587.1 1607.4,1593.2 1607.5,1599.4 1607.7,1605.5 1607.8,1611.6 1607.9,1617.8 1608.1,1623.9 1608.2,1630.1 1608.3,1636.2 1608.5,1642.3 1608.6,1648.5 1608.8,1654.6 1608.9,1660.8 1609.0,1666.9 1609.2,1673.0 1609.3,1679.2 1609.4,1685.3 1609.6,1691.5 1609.7,1697.6"/>
</g>
<g fill="none" stroke="#ff00ff" stroke-linejoin="round" shape-rendering="crispEdges">
<polyline stroke-width="13.25" stroke-linecap="butt" points="269.4,1833.4 274.3,1822.9 279.4,1812.5"/>
<polyline stroke-width="13.5" stroke-linecap="butt" points="274.3,1822.9 279.4,1812.5 285.6,1802.1"/>
<polyline stroke-width="13.75" stroke-linecap="butt" points="279.4,1812.5 285.6,1802.1 291.8,1791.9"/>
<polyline stroke-width="14.0" stroke-linecap="butt" points="285.6,1802.1 291.8,1791.9 298.1,1781.9"/>
<polyline stroke-width="14.25" stroke-linecap="butt" points="291.8,1791.9 298.1,1781.9 304.3,1771.9 310.5,1761.8"/>
<polyline stroke-width="14.5" stroke-linecap="butt" points="304.3,1771.9 310.5,1761.8 316.7,1751.8"/>
<polyline stroke-width="14.75" stroke-linecap="butt" points="310.5,1761.8 316.7,1751.8 323.0,1741.8 329.0,1731.8 335.1,1721.8 341.1,1711.8 347.2,1701.8 353.2,1691.8 359.3,1681.9 365.3,1671.9 371.4,1662.0 377.4,1652.1 383.5,1642.2 389.5,1632.3 395.6,1622.5 401.6,1612.6 407.7,1602.8 413.7,1592.9 419.8,1583.1 425.8,1573.3 431.9,1563.6 437.9,1553.8 444.0,1544.1 450.0,1534.4 456.1,1524.7 462.1,1515.0 468.2,1505.4 474.2,1495.7 480.3,1486.2 486.3,1476.6 492.4,1467.1 498.4,1457.6 504.5,1448.1 510.5,1438.7 516.6,1429.3 522.6,1419.9 528.7,1410.6 534.7,1401.3 540.8,1392.1 546.8,1382.9 552.8,1373.8 558.9,1364.7 564.9,1355.6 571.0,1346.5 577.0,1337.6 583.1,1328.6 589.1,1319.7 595.2,1310.8 601.2,1301.9 607.3,1293.1 613.3,1284.4 619.4,1275.6 625.4,1266.9 631.5,1258.2 637.5,1249.6 643.6,1241.0 649.6,1232.5 655.7,1223.9 661.7,1215.4 667.8,1207.0 673.8,1198.6 679.9,1190.2 685.9,1181.8 692.0,1173.5 698.0,1165.2 704.1,1156.9 710.1,1148.7 716.2,1140.5 722.2,1132.4 728.3,1124.3 734.3,1116.2 740.4,1108.2 746.4,1100.2"/>
<polyline stroke-width="14.5" stroke-linecap="butt" points="740.4,1108.2 746.4,1100.2 752.5,1092.3 758.5,1084.4 764.6,1076.5 770.6,1068.7 776.7,1060.9 782.7,1053.2 788.8,1045.5 794.8,1037.9 800.9,1030.3 806.9,1022.7 813.0,1015.3 819.0,1007.8 825.0,1000.5 831.1,993.2 837.1,985.9 843.2,978.7 849.2,971.6 855.3,964.5 861.3,957.4 867.4,950.4 873.4,943.5 879.5,936.5 885.5,929.7 891.6,922.8 897.6,916.0 903.7,909.2 909.7,902.4 915.8,895.6 921.8,888.9 927.9,882.1 933.9,875.4 940.0,868.7 946.0,862.1 952.1,855.5 958.1,848.9 964.2,842.3 970.2,835.9 976.3,829.4 982.3,823.1"/>
<polyline stroke-width="14.25" stroke-linecap="butt" points="976.3,829.4 982.3,823.1 988.4,816.8 994.4,810.5 1000.5,804.3 1006.5,798.2 1012.6,792.2 1018.6,786.2 1024.7,780.4 1030.7,774.5 1036.8,768.8 1042.8,763.0 1048.9,757.4 1054.9,751.8 1061.0,746.2 1067.0,740.7 1073.1,735.2 1079.1,729.8 1085.2,724.4 1091.2,719.1 1097.2,713.8 1103.3,708.5 1109.3,703.3 1115.4,698.0 1121.4,692.9 1127.5,687.7 1133.5,682.7 1139.6,677.6 1145.6,672.6 1151.7,667.6 1157.7,662.7 1163.8,657.8 1169.8,652.9 1175.9,648.1 1181.9,643.4 1188.0,638.6 1194.0,633.9"/>
<polyline stroke-width="14.0" stroke-linecap="butt" points="1188.0,638.6 1194.0,633.9 1200.1,629.2 1206.1,624.5 1212.2,619.9 1218.2,615.2 1224.3,610.6 1230.3,606.0 1236.4,601.5 1242.4,596.9 1248.5,592.4 1254.5,588.0 1260.6,583.6 1266.6,579.2 1272.7,574.9 1278.7,570.7 1284.8,566.5 1290.8,562.4 1296.9,558.4 1302.9,554.5 1309.0,550.7 1315.0,546.9 1321.1,543.3 1327.1,539.8 1333.2,536.3 1339.2,532.9 1345.3,529.5 1351.3,526.3 1357.4,523.0 1361.2,521.0"/>
<circle cx="269.4" cy="1833.4" r="6.62" fill="#ff00ff" stroke="none"/>
<circle cx="1363.4" cy="519.8" r="6.65" fill="#ff00ff" stroke="none"/>
<polyline stroke-width="13.3" stroke-linecap="butt" points="1363.4,519.8 1366.9,900.0 1370.4,1200.0 1373.0,1350.0 1375.4,1500.0 1382.5,1676.7"/>
</g>
<g fill="none" stroke="#0000ff" stroke-linejoin="round" shape-rendering="crispEdges">
<polyline stroke-width="13.25" stroke-linecap="butt" points="269.4,1833.4 274.3,1823.8 279.4,1814.2"/>
<polyline stroke-width="13.5" stroke-linecap="butt" points="274.3,1823.8 279.4,1814.2 285.6,1804.6"/>
<polyline stroke-width="13.75" stroke-linecap="butt" points="279.4,1814.2 285.6,1804.6 291.9,1795.3"/>
<polyline stroke-width="14.0" stroke-linecap="butt" points="285.6,1804.6 291.9,1795.3 298.1,1786.1"/>
<polyline stroke-width="14.25" stroke-linecap="butt" points="291.9,1795.3 298.1,1786.1 304.3,1776.9 310.6,1767.7"/>
<polyline stroke-width="14.5" stroke-linecap="butt" points="304.3,1776.9 310.6,1767.7 316.8,1758.5"/>
<polyline stroke-width="14.75" stroke-linecap="butt" points="310.6,1767.7 316.8,1758.5 323.0,1749.3 329.1,1740.2 335.1,1731.1 341.2,1721.9 347.2,1712.8 353.3,1703.8 359.4,1694.7 365.4,1685.6 371.5,1676.6 377.5,1667.6 383.6,1658.6 389.6,1649.6 395.7,1640.7 401.7,1631.7 407.8,1622.8 413.8,1613.8 419.9,1604.9 425.9,1596.0 432.0,1587.1 438.1,1578.2 444.1,1569.4 450.2,1560.5 456.2,1551.7 462.3,1542.8 468.3,1534.1 474.4,1525.3 480.4,1516.5 486.5,1507.8 492.5,1499.1 498.6,1490.5 504.6,1481.8 510.7,1473.2 516.8,1464.6 522.8,1456.1 528.9,1447.6 534.9,1439.1 541.0,1430.7 547.0,1422.3 553.1,1414.0 559.1,1405.7 565.2,1397.4 571.2,1389.2 577.3,1381.1 583.3,1373.0 589.4,1364.9 595.5,1356.9 601.5,1348.9"/>
<polyline stroke-width="14.5" stroke-linecap="butt" points="595.5,1356.9 601.5,1348.9 607.6,1341.0 613.6,1333.1 619.7,1325.2 625.7,1317.3 631.8,1309.5 637.8,1301.7 643.9,1294.0 649.9,1286.3 656.0,1278.6 662.0,1270.9 668.1,1263.2 674.1,1255.6 680.2,1248.1 686.3,1240.5 692.3,1233.0 698.4,1225.6 704.4,1218.2 710.5,1210.8 716.5,1203.5 722.6,1196.2 728.6,1189.0 734.7,1181.8 740.7,1174.7 746.8,1167.6 752.8,1160.5 758.9,1153.5 765.0,1146.6 771.0,1139.6 777.1,1132.8 783.1,1125.9 789.2,1119.2 795.2,1112.4 801.3,1105.7 807.3,1099.1 813.4,1092.4 819.4,1085.9 825.5,1079.4 831.5,1072.9 837.6,1066.4 843.7,1060.1 849.7,1053.7"/>
<polyline stroke-width="14.25" stroke-linecap="butt" points="843.7,1060.1 849.7,1053.7 855.8,1047.4 861.8,1041.2 867.9,1035.0 873.9,1028.8 880.0,1022.7 886.0,1016.6 892.1,1010.5 898.1,1004.5 904.2,998.6 910.2,992.7 916.3,986.8 922.4,980.9 928.4,975.1 934.5,969.4 940.5,963.7 946.6,958.0 952.6,952.4 958.7,946.8 964.7,941.3 970.8,935.8 976.8,930.4 982.9,925.0 988.9,919.6 995.0,914.3 1001.1,909.1 1007.1,903.9 1013.2,898.8 1019.2,893.7 1025.3,888.6 1031.3,883.6 1037.4,878.7 1043.4,873.7 1049.5,868.9 1055.5,864.1 1061.6,859.3 1067.6,854.6"/>
<polyline stroke-width="14.0" stroke-linecap="butt" points="1061.6,859.3 1067.6,854.6 1073.7,849.9 1079.7,845.3 1085.8,840.8 1091.9,836.2 1097.9,831.8 1104.0,827.3 1110.0,823.0 1116.1,818.6 1122.1,814.3 1128.2,810.1 1134.2,805.9 1140.3,801.8 1146.3,797.7 1152.4,793.7 1158.4,789.7 1164.5,785.8 1170.6,781.9 1176.6,778.1 1182.7,774.4 1188.7,770.7 1194.8,767.1 1200.8,763.5 1206.9,760.0 1212.9,756.6 1219.0,753.2 1225.0,749.8 1231.1,746.5 1237.1,743.2 1241.0,741.1"/>
<circle cx="269.4" cy="1833.4" r="6.62" fill="#0000ff" stroke="none"/>
<circle cx="1243.2" cy="740.0" r="6.65" fill="#0000ff" stroke="none"/>
<clipPath id="cblue"><path d="M0,0H2128.0 V2057 H1303.5 V1834.0 H0Z"/></clipPath>
<g clip-path="url(#cblue)">
<polyline stroke-width="13.3" stroke-linecap="butt" points="1243.2,740.0 1243.4,900.0 1246.5,1200.0 1248.8,1350.0 1251.1,1500.0 1256.4,1750.0 1258.3,1826.0 1258.6,1845.0"/>
<polyline stroke-width="13.0" stroke-linecap="round" points="1259.6,1805.8 1260.9,1839.4 1262.2,1802.7 1263.5,1839.4 1264.8,1796.3 1266.1,1839.4 1267.4,1796.7 1268.7,1839.4 1270.0,1800.9 1271.3,1839.4 1272.6,1801.9 1273.9,1839.4 1275.2,1807.0 1276.5,1839.4 1277.8,1808.7 1279.1,1839.4 1280.4,1805.3 1281.7,1839.4 1283.0,1806.7 1284.3,1839.4 1285.6,1810.0 1286.9,1839.4 1288.2,1809.5 1289.5,1839.4 1290.8,1809.0 1292.1,1837.4 1293.4,1816.0 1294.7,1832.8 1296.0,1815.8 1297.3,1832.2 1298.6,1815.9 1299.9,1832.0 1301.2,1817.3 1302.5,1831.3 1303.8,1817.6 1305.1,1831.1 1306.4,1817.8 1307.7,1831.5 1309.0,1818.1 1310.3,1831.9 1311.6,1817.8 1312.9,1832.1 1314.2,1817.5 1315.5,1832.3 1316.8,1819.5 1318.1,1832.3 1319.4,1821.5 1320.7,1832.3 1322.0,1820.8 1323.3,1832.3 1324.6,1819.4 1325.9,1832.3 1327.2,1818.9 1328.5,1832.3 1329.8,1819.3 1331.1,1832.3 1332.4,1819.7 1333.7,1832.3 1335.0,1819.8 1336.3,1832.3 1337.6,1819.9 1338.9,1832.3 1340.2,1820.2 1341.5,1832.3 1342.8,1821.1 1344.1,1832.3 1345.4,1822.3 1346.7,1832.3 1348.0,1822.6 1349.3,1832.3 1350.6,1822.7 1351.9,1832.2 1353.2,1823.3 1354.5,1831.9 1355.8,1823.7 1357.1,1831.3 1358.4,1823.9 1359.7,1830.7 1361.0,1823.8 1362.3,1830.7 1363.6,1823.5 1364.9,1830.8 1366.2,1822.7 1367.5,1830.6 1368.8,1821.9 1370.1,1830.3 1371.4,1821.9 1372.7,1830.2 1374.0,1822.5 1375.3,1830.8 1376.6,1823.5 1377.9,1831.7 1379.2,1824.2 1380.5,1832.2 1381.8,1824.6 1383.1,1832.3 1384.4,1824.8 1385.7,1832.3 1387.0,1824.9 1388.3,1832.3 1389.6,1824.9 1390.9,1832.3 1392.2,1824.6 1393.5,1832.3 1394.8,1824.0 1396.1,1832.3 1397.4,1823.1 1398.7,1832.3 1400.0,1822.7 1401.3,1832.3 1402.6,1822.7 1403.9,1832.1 1405.2,1822.9 1406.5,1831.3 1407.8,1823.1 1409.1,1830.2 1410.4,1823.2 1411.7,1829.7 1413.0,1823.4 1414.3,1829.6 1415.6,1823.6 1416.9,1829.8 1418.2,1823.8 1419.5,1830.2 1420.8,1824.0 1422.1,1830.6 1423.4,1824.8 1424.7,1830.9 1426.0,1826.1 1427.3,1830.8 1428.6,1826.4 1429.9,1830.4 1431.2,1826.2 1432.5,1829.9 1433.8,1825.8 1435.1,1829.6 1436.4,1825.8 1437.7,1829.7 1439.0,1826.1 1440.3,1829.9 1441.6,1826.5 1442.9,1830.3 1444.2,1827.0 1445.5,1831.0 1446.8,1827.4 1448.1,1831.6 1449.4,1827.6 1450.7,1832.0 1452.0,1827.4 1453.3,1832.2 1454.6,1826.8 1455.9,1832.3 1457.2,1826.5 1458.5,1832.3 1459.8,1826.6 1461.1,1832.3 1462.4,1827.0 1463.7,1832.3 1465.0,1827.7 1466.3,1832.3 1467.6,1828.1 1468.9,1832.3 1470.2,1828.4 1471.5,1832.1 1472.8,1828.5 1474.1,1831.5 1475.4,1828.6 1476.7,1831.0 1478.0,1828.6 1479.3,1830.7 1480.6,1828.6 1481.9,1830.6 1483.2,1828.7 1484.5,1830.6 1485.8,1828.8 1487.1,1830.8 1488.4,1828.9 1489.7,1831.2 1491.0,1828.8 1492.3,1831.8 1493.6,1828.2 1494.9,1832.2 1496.2,1827.7 1497.5,1832.3 1498.8,1827.8 1500.1,1832.3 1501.4,1828.4 1502.7,1832.3 1504.0,1828.6 1505.3,1832.3 1506.6,1828.3 1507.9,1831.9 1509.2,1828.0 1510.5,1831.0 1511.8,1828.0 1513.1,1830.6 1514.4,1828.3 1515.7,1830.6 1517.0,1828.5 1518.3,1830.6 1519.6,1828.4 1520.9,1830.8 1522.2,1828.2 1523.5,1831.1 1524.8,1828.2 1526.1,1831.7 1527.4,1828.4 1528.7,1832.0 1530.0,1828.9 1531.3,1832.1 1532.6,1829.0 1533.9,1832.2 1535.2,1829.1 1536.5,1832.2 1537.8,1829.1 1539.1,1832.2 1540.4,1829.1 1541.7,1832.2 1543.0,1829.1 1544.3,1832.2 1545.6,1829.1 1546.9,1832.1 1548.2,1829.1 1549.5,1832.0 1550.8,1828.9 1552.1,1832.0 1553.4,1828.4 1554.7,1832.1 1556.0,1828.1 1557.3,1832.2 1558.6,1828.0 1559.9,1832.3 1561.2,1827.9 1562.5,1832.3 1563.8,1827.9 1565.1,1832.2 1566.4,1827.8 1567.7,1832.1 1569.0,1827.8 1570.3,1831.6 1571.6,1827.8 1572.9,1831.1 1574.2,1827.8 1575.5,1830.8 1576.8,1827.8 1578.1,1830.6 1579.4,1827.9 1580.7,1830.5 1582.0,1828.1 1583.3,1830.5 1584.6,1828.1 1585.9,1830.5 1587.2,1828.0 1588.5,1830.5 1589.8,1827.9 1591.1,1830.5 1592.4,1827.9 1593.7,1830.5 1595.0,1827.8 1596.3,1830.5 1597.6,1827.8 1598.9,1830.6 1600.2,1827.8 1601.5,1830.7 1602.8,1827.9 1604.1,1831.1 1605.4,1828.5 1606.7,1832.0 1608.0,1828.6 1609.3,1832.3 1610.6,1828.3 1611.9,1832.3 1613.2,1828.0 1614.5,1832.3 1615.8,1828.0 1617.1,1832.3 1618.4,1828.2 1619.7,1832.2 1621.0,1828.1 1622.3,1832.0 1623.6,1828.0 1624.9,1831.9 1626.2,1827.9 1627.5,1832.1 1628.8,1827.9 1630.1,1832.2 1631.4,1828.0 1632.7,1832.3 1634.0,1828.0 1635.3,1832.3 1636.6,1827.9 1637.9,1832.3 1639.2,1827.9 1640.5,1832.3 1641.8,1828.0 1643.1,1832.3 1644.4,1828.4 1645.7,1832.2 1647.0,1828.8 1648.3,1832.1 1649.6,1828.9 1650.9,1832.2 1652.2,1828.9 1653.5,1832.3 1654.8,1828.9 1656.1,1832.3 1657.4,1828.9 1658.7,1832.2 1660.0,1828.8 1661.3,1831.9 1662.6,1828.8 1663.9,1831.4 1665.2,1828.8 1666.5,1831.2 1667.8,1828.7 1669.1,1831.4 1670.4,1828.7 1671.7,1831.7 1673.0,1828.7 1674.3,1831.9 1675.6,1828.6 1676.9,1831.8 1678.2,1828.2 1679.5,1831.4 1680.8,1827.9 1682.1,1831.0 1683.4,1827.9 1684.7,1831.0 1686.0,1828.0 1687.3,1831.1 1688.6,1828.4 1689.9,1831.3 1691.2,1828.8 1692.5,1831.5 1693.8,1829.0 1695.1,1831.6 1696.4,1829.0 1697.7,1831.8 1699.0,1829.0 1700.3,1831.9 1701.6,1828.9 1702.9,1831.9 1704.2,1829.0 1705.5,1831.6 1706.8,1829.1 1708.1,1831.4 1709.4,1829.1 1710.7,1831.4 1712.0,1829.1 1713.3,1831.8 1714.6,1828.6 1715.9,1832.2 1717.2,1828.0 1718.5,1832.3 1719.8,1827.8 1721.1,1832.3 1722.4,1827.8 1723.7,1832.3 1725.0,1827.9 1726.3,1832.2 1727.6,1828.5 1728.9,1832.1 1730.2,1829.1 1731.5,1831.8 1732.8,1829.1 1734.1,1831.8 1735.4,1829.0 1736.7,1832.0 1738.0,1828.5 1739.3,1832.1 1740.6,1828.3 1741.9,1832.1 1743.2,1828.6 1744.5,1831.8 1745.8,1829.1 1747.1,1831.2 1748.4,1829.1 1749.7,1830.9 1751.0,1829.1 1752.3,1830.7 1753.6,1829.0 1754.9,1830.7 1756.2,1828.9 1757.5,1830.9 1758.8,1828.9 1760.1,1831.5 1761.4,1829.0 1762.7,1832.0 1764.0,1829.1 1765.3,1832.2 1766.6,1829.0 1767.9,1832.2 1769.2,1828.9 1770.5,1832.1 1771.8,1828.8 1773.1,1831.9 1774.4,1828.8 1775.7,1831.8 1777.0,1828.8 1778.3,1831.8 1779.6,1828.8 1780.9,1832.1 1782.2,1828.7 1783.5,1832.3 1784.8,1828.6 1786.1,1832.3 1787.4,1828.6 1788.7,1832.3 1790.0,1828.3 1791.3,1832.3 1792.6,1828.1 1793.9,1832.3 1795.2,1828.1 1796.5,1832.3 1797.8,1828.2 1799.1,1832.3 1800.4,1828.1 1801.7,1832.2 1803.0,1828.0 1804.3,1831.9 1805.6,1828.0 1806.9,1831.3 1808.2,1828.1 1809.5,1831.0 1810.8,1828.6 1812.1,1830.9 1813.4,1829.0 1814.7,1830.9 1816.0,1829.0 1817.3,1830.9 1818.6,1828.7 1819.9,1830.9 1821.2,1828.4 1822.5,1831.0 1823.8,1828.1 1825.1,1831.1 1826.4,1828.0 1827.7,1831.5 1829.0,1828.1 1830.3,1831.9 1831.6,1828.4 1832.9,1832.2 1834.2,1828.5 1835.5,1832.3 1836.8,1828.7 1838.1,1832.3 1839.4,1828.9 1840.7,1832.3 1842.0,1828.9 1843.3,1832.3 1844.6,1829.0 1845.9,1832.3 1847.2,1829.0 1848.5,1832.3 1849.8,1829.0 1851.1,1832.2 1852.4,1829.0 1853.7,1832.1 1855.0,1828.9 1856.3,1831.7 1857.6,1828.4 1858.9,1831.4 1860.2,1828.0 1861.5,1831.1 1862.8,1827.9 1864.1,1830.9 1865.4,1827.9 1866.7,1830.8 1868.0,1828.1 1869.3,1830.6 1870.6,1828.5 1871.9,1830.6 1873.2,1828.9 1874.5,1830.7 1875.8,1829.0 1877.1,1830.9 1878.4,1828.9 1879.7,1831.6 1881.0,1828.6 1882.3,1832.1 1883.6,1828.6 1884.9,1832.2 1886.2,1828.9 1887.5,1832.2 1888.8,1829.0 1890.1,1832.2 1891.4,1829.0 1892.7,1832.2 1894.0,1828.9 1895.3,1832.1 1896.6,1828.8 1897.9,1831.8 1899.2,1828.6 1900.5,1831.4 1901.8,1828.6 1903.1,1831.0 1904.4,1828.9 1905.7,1830.8 1907.0,1829.1 1908.3,1830.8 1909.6,1829.1 1910.9,1830.8 1912.2,1828.9 1913.5,1830.8 1914.8,1828.9 1916.1,1830.8 1917.4,1828.8 1918.7,1830.8 1920.0,1828.5 1921.3,1830.8 1922.6,1828.1 1923.9,1831.3 1925.2,1828.1 1926.5,1832.1 1927.8,1828.1 1929.1,1832.3 1930.4,1828.2 1931.7,1832.3 1933.0,1828.1 1934.3,1832.3 1935.6,1828.0 1936.9,1832.3 1938.2,1828.0 1939.5,1832.3 1940.8,1828.0 1942.1,1832.3 1943.4,1828.1 1944.7,1832.3 1946.0,1828.5 1947.3,1832.3 1948.6,1829.0 1949.9,1832.3 1951.2,1828.9 1952.5,1832.3 1953.8,1828.5 1955.1,1832.3 1956.4,1828.3 1957.7,1832.3 1959.0,1828.5 1960.3,1832.3 1961.6,1828.8 1962.9,1832.3 1964.2,1828.8 1965.5,1832.3 1966.8,1828.7 1968.1,1832.3 1969.4,1828.6 1970.7,1832.3 1972.0,1828.8 1973.3,1832.3 1974.6,1828.9 1975.9,1832.3 1977.2,1829.0 1978.5,1832.2 1979.8,1829.0 1981.1,1832.1 1982.4,1829.2 1983.7,1831.8 1985.0,1829.3 1986.3,1831.7 1987.6,1829.3 1988.9,1832.0 1990.2,1829.2 1991.5,1832.1 1992.8,1829.1 1994.1,1832.2 1995.4,1829.1 1996.7,1832.0 1998.0,1829.2 1999.3,1831.6 2000.6,1829.2 2001.9,1831.1 2003.2,1829.2 2004.5,1830.9 2005.8,1829.1 2007.1,1830.9 2008.4,1828.8 2009.7,1831.0 2011.0,1828.6 2012.3,1831.2 2013.6,1828.4 2014.9,1831.4 2016.2,1828.1 2017.5,1831.4 2018.8,1828.1 2020.1,1831.5 2021.4,1828.3 2022.7,1831.6 2024.0,1829.0 2025.3,1831.6 2026.6,1829.2 2027.9,1831.4 2029.2,1829.2 2030.5,1831.0 2031.8,1829.3 2033.1,1830.7 2034.4,1829.3 2035.7,1830.6 2037.0,1829.3 2038.3,1830.6 2039.6,1829.3 2040.9,1830.7 2042.2,1829.0 2043.5,1830.7 2044.8,1828.7 2046.1,1830.8 2047.4,1829.1 2048.7,1830.9 2050.0,1829.3 2051.3,1830.8 2051.7,1830.2"/>
</g>
</g>
<g fill="none" stroke="#00ffff" stroke-linejoin="round" shape-rendering="crispEdges">
<polyline stroke-width="13.25" stroke-linecap="butt" points="269.4,1833.4 274.3,1823.2 279.4,1813.0"/>
<polyline stroke-width="13.5" stroke-linecap="butt" points="274.3,1823.2 279.4,1813.0 285.6,1802.8"/>
<polyline stroke-width="13.75" stroke-linecap="butt" points="279.4,1813.0 285.6,1802.8 291.9,1792.9"/>
<polyline stroke-width="14.0" stroke-linecap="butt" points="285.6,1802.8 291.9,1792.9 298.1,1783.1"/>
<polyline stroke-width="14.25" stroke-linecap="butt" points="291.9,1792.9 298.1,1783.1 304.3,1773.4 310.6,1763.6"/>
<polyline stroke-width="14.5" stroke-linecap="butt" points="304.3,1773.4 310.6,1763.6 316.8,1753.9"/>
<polyline stroke-width="14.75" stroke-linecap="butt" points="310.6,1763.6 316.8,1753.9 323.1,1744.2 329.1,1734.5 335.2,1724.7 341.2,1715.0 347.3,1705.3 353.4,1695.6 359.4,1686.0 365.5,1676.3 371.5,1666.7 377.6,1657.1 383.6,1647.5 389.7,1637.9 395.8,1628.4 401.8,1618.8 407.9,1609.3 413.9,1599.8 420.0,1590.3 426.0,1580.8 432.1,1571.3 438.2,1561.8 444.2,1552.4 450.3,1543.0 456.3,1533.6 462.4,1524.2 468.4,1514.9 474.5,1505.6 480.6,1496.3 486.6,1487.0 492.7,1477.8 498.7,1468.6 504.8,1459.4 510.8,1450.3 516.9,1441.1 523.0,1432.1 529.0,1423.0 535.1,1414.0 541.1,1405.0 547.2,1396.0 553.2,1387.1 559.3,1378.2 565.4,1369.4 571.4,1360.6 577.5,1351.8 583.5,1343.0 589.6,1334.3 595.6,1325.6 601.7,1317.0 607.8,1308.4 613.8,1299.8 619.9,1291.3 625.9,1282.8 632.0,1274.3 638.0,1265.9 644.1,1257.5 650.2,1249.1 656.2,1240.8 662.3,1232.6 668.3,1224.3 674.4,1216.2 680.4,1208.0 686.5,1199.9 692.6,1191.9 698.6,1183.9"/>
<polyline stroke-width="14.5" stroke-linecap="butt" points="692.6,1191.9 698.6,1183.9 704.7,1175.9 710.7,1168.0 716.8,1160.2 722.8,1152.4 728.9,1144.6 735.0,1136.8 741.0,1129.2 747.1,1121.5 753.1,1113.9 759.2,1106.3 765.2,1098.7 771.3,1091.2 777.4,1083.8 783.4,1076.4 789.5,1069.0 795.5,1061.6 801.6,1054.3 807.6,1047.0 813.7,1039.8 819.8,1032.6 825.8,1025.5 831.9,1018.3 837.9,1011.3 844.0,1004.2 850.0,997.2 856.1,990.3 862.2,983.4 868.2,976.5 874.3,969.6 880.3,962.8 886.4,956.1 892.4,949.3 898.5,942.7 904.6,936.0 910.6,929.4 916.7,922.9 922.7,916.4 928.8,910.0 934.8,903.5 940.9,897.2"/>
<polyline stroke-width="14.25" stroke-linecap="butt" points="934.8,903.5 940.9,897.2 947.0,890.9 953.0,884.6 959.1,878.4 965.1,872.3 971.2,866.2 977.2,860.1 983.3,854.1 989.4,848.1 995.4,842.2 1001.5,836.3 1007.5,830.4 1013.6,824.6 1019.6,818.8 1025.7,813.1 1031.8,807.4 1037.8,801.7 1043.9,796.0 1049.9,790.3 1056.0,784.7 1062.0,779.2 1068.1,773.6 1074.2,768.1 1080.2,762.6 1086.3,757.2 1092.3,751.8 1098.4,746.5 1104.4,741.2 1110.5,735.9 1116.6,730.7 1122.6,725.5 1128.7,720.4 1134.7,715.4 1140.8,710.4 1146.8,705.5 1152.9,700.6 1159.0,695.8 1165.0,691.1"/>
<polyline stroke-width="14.0" stroke-linecap="butt" points="1159.0,695.8 1165.0,691.1 1171.1,686.4 1177.1,681.7 1183.2,677.1 1189.2,672.6 1195.3,668.1 1201.4,663.6 1207.4,659.2 1213.5,654.8 1219.5,650.5 1225.6,646.1 1231.6,641.8 1237.7,637.4 1243.8,633.1 1249.8,628.8 1255.9,624.5 1261.9,620.2 1268.0,615.9 1274.0,611.7 1280.1,607.5 1286.2,603.4 1292.2,599.3 1298.3,595.4 1304.3,591.5 1310.4,587.7 1316.4,584.0 1322.5,580.3 1328.6,576.7 1334.6,573.2 1340.7,569.7 1346.7,566.3 1352.8,562.9 1358.8,559.5 1364.9,556.2 1371.0,553.0 1377.0,549.8 1383.1,546.7"/>
<polyline stroke-width="13.75" stroke-linecap="butt" points="1377.0,549.8 1383.1,546.7 1389.1,543.6 1395.2,540.6 1401.2,537.7 1407.3,534.9 1413.4,532.2 1419.4,529.5 1425.5,526.8 1431.5,524.3 1437.6,521.7 1443.6,519.2 1447.4,517.6"/>
<circle cx="269.4" cy="1833.4" r="6.62" fill="#00ffff" stroke="none"/>
<circle cx="1449.7" cy="516.7" r="6.65" fill="#00ffff" stroke="none"/>
<clipPath id="ccyan"><path d="M0,0H1809.8 V2057 H1809.8 V1834.0 H0Z"/></clipPath>
<g clip-path="url(#ccyan)">
<polyline stroke-width="13.3" stroke-linecap="butt" points="1449.7,516.7 1452.4,900.0 1459.3,1380.0 1460.6,1500.0 1464.9,1700.0 1466.9,1770.0 1469.3,1826.0 1469.5,1845.0"/>
<polyline stroke-width="13.0" stroke-linecap="butt" points="1470.5,1815.2 1471.8,1843.0 1473.1,1815.6 1474.4,1843.0 1475.7,1815.4 1477.0,1843.0 1478.3,1817.1 1479.6,1843.0 1480.9,1819.6 1482.2,1843.0 1483.5,1822.3 1484.8,1843.0 1486.1,1824.2 1487.4,1843.0 1488.7,1825.4 1490.0,1843.0 1491.3,1825.9 1492.6,1843.0 1493.9,1823.1 1495.2,1843.0 1496.5,1823.8 1497.8,1843.0 1499.1,1823.5 1500.4,1843.0 1501.7,1822.1 1503.0,1843.0 1504.3,1822.5 1505.6,1843.0 1506.9,1823.3 1508.2,1843.0 1509.5,1822.5 1510.8,1843.0 1512.1,1824.4 1513.4,1843.0 1514.7,1825.9 1516.0,1843.0 1517.3,1823.3 1518.6,1843.0 1519.9,1820.6 1521.2,1843.0 1522.5,1819.4 1523.8,1843.0 1525.1,1817.0 1526.4,1843.0 1527.7,1817.8 1529.0,1843.0 1530.3,1817.3 1531.6,1843.0 1532.9,1817.6 1534.2,1843.0 1535.5,1817.2 1536.8,1843.0 1538.1,1817.1 1539.4,1843.0 1540.7,1817.1 1542.0,1843.0 1543.3,1818.5 1544.6,1843.0 1545.9,1816.4 1547.2,1843.0 1548.5,1816.7 1549.8,1843.0 1551.1,1818.8 1552.4,1843.0 1553.7,1820.0 1555.0,1843.0 1556.3,1818.2 1557.6,1843.0 1558.9,1818.8 1560.2,1843.0 1561.5,1819.2 1562.8,1843.0 1564.1,1820.1 1565.4,1843.0 1566.7,1821.1 1568.0,1843.0 1569.3,1820.7 1570.6,1843.0 1571.9,1820.8 1573.2,1843.0 1574.5,1823.5 1575.8,1843.0 1577.1,1823.9 1578.4,1843.0 1579.7,1824.4 1581.0,1843.0 1582.3,1823.8 1583.6,1843.0 1584.9,1823.7 1586.2,1843.0 1587.5,1824.9 1588.8,1843.0 1590.1,1823.5 1591.4,1843.0 1592.7,1824.0 1594.0,1843.0 1595.3,1822.2 1596.6,1843.0 1597.9,1822.1 1599.2,1843.0 1600.5,1823.1 1601.8,1843.0 1603.1,1822.2 1604.4,1843.0 1605.7,1821.8 1607.0,1843.0 1608.3,1819.7 1609.6,1843.0 1610.9,1819.6 1612.2,1843.0 1613.5,1818.8 1614.8,1843.0 1616.1,1819.6 1617.4,1843.0 1618.7,1820.9 1620.0,1843.0 1621.3,1820.4 1622.6,1843.0 1623.9,1821.1 1625.2,1843.0 1626.5,1820.0 1627.8,1843.0 1629.1,1819.8 1630.4,1843.0 1631.7,1822.4 1633.0,1843.0 1634.3,1821.0 1635.6,1843.0 1636.9,1821.5 1638.2,1843.0 1639.5,1823.0 1640.8,1843.0 1642.1,1822.8 1643.4,1843.0 1644.7,1823.5 1646.0,1843.0 1647.3,1825.1 1648.6,1843.0 1649.9,1825.6 1651.2,1843.0 1652.5,1825.4 1653.8,1843.0 1655.1,1825.3 1656.4,1843.0 1657.7,1823.9 1659.0,1843.0 1660.3,1822.5 1661.6,1843.0 1662.9,1822.2 1664.2,1843.0 1665.5,1822.8 1666.8,1843.0 1668.1,1823.0 1669.4,1843.0 1670.7,1824.1 1672.0,1843.0 1673.3,1822.7 1674.6,1843.0 1675.9,1822.8 1677.2,1843.0 1678.5,1824.0 1679.8,1843.0 1681.1,1823.1 1682.4,1843.0 1683.7,1824.2 1685.0,1843.0 1686.3,1823.0 1687.6,1843.0 1688.9,1824.3 1690.2,1843.0 1691.5,1825.0 1692.8,1843.0 1694.1,1824.2 1695.4,1843.0 1696.7,1824.1 1698.0,1843.0 1699.3,1823.5 1700.6,1843.0 1701.9,1825.5 1703.2,1843.0 1704.5,1824.8 1705.8,1843.0 1707.1,1826.2 1708.4,1843.0 1709.7,1824.3 1711.0,1843.0 1712.3,1825.5 1713.6,1843.0 1714.9,1824.3 1716.2,1843.0 1717.5,1825.1 1718.8,1843.0 1720.1,1824.1 1721.4,1843.0 1722.7,1824.5 1724.0,1843.0 1725.3,1824.4 1726.6,1843.0 1727.9,1823.2 1729.2,1843.0 1730.5,1823.4 1731.8,1843.0 1733.1,1823.9 1734.4,1843.0 1735.7,1824.2 1737.0,1843.0 1738.3,1824.3 1739.6,1843.0 1740.9,1825.3 1742.2,1843.0 1743.5,1823.9 1744.8,1843.0 1746.1,1824.1 1747.4,1843.0 1748.7,1824.8 1750.0,1843.0 1751.3,1824.4 1752.6,1843.0 1753.9,1824.8 1755.2,1843.0 1756.5,1826.2 1757.8,1843.0 1759.1,1824.3 1760.4,1843.0 1761.7,1824.3 1763.0,1843.0 1764.3,1824.7 1765.6,1843.0 1766.9,1824.4 1768.2,1843.0 1769.5,1823.9 1770.8,1843.0 1772.1,1824.8 1773.4,1843.0 1774.7,1825.1 1776.0,1843.0 1777.3,1823.7 1778.6,1843.0 1779.9,1824.5 1781.2,1843.0 1782.5,1824.6 1783.8,1843.0 1785.1,1824.1 1786.4,1843.0 1787.7,1823.9 1789.0,1843.0 1790.3,1824.9 1791.6,1843.0 1792.9,1824.8 1794.2,1843.0 1795.5,1823.7 1796.8,1843.0 1798.1,1824.0 1799.4,1843.0 1800.7,1823.8 1802.0,1843.0 1803.3,1823.6 1804.6,1843.0 1805.9,1824.7 1807.2,1843.0 1808.5,1825.2 1809.8,1843.0 1811.1,1826.1 1812.4,1843.0 1813.7,1825.5 1815.0,1843.0 1816.0,1828.2"/>
</g>
</g>
<text class="t" transform="translate(240.46,1856.00) scale(0.9832,0.9920)" text-anchor="end">0</text>
<text class="t" transform="translate(240.50,1678.00) scale(0.9695,0.9920)" text-anchor="end">10</text>
<text class="t" transform="translate(240.52,1500.00) scale(1.0184,0.9920)" text-anchor="end">20</text>
<text class="t" transform="translate(240.67,1322.00) scale(1.0069,0.9920)" text-anchor="end">30</text>
<text class="t" transform="translate(240.67,1144.00) scale(0.9963,0.9920)" text-anchor="end">40</text>
<text class="t" transform="translate(240.74,967.00) scale(1.0103,0.9920)" text-anchor="end">50</text>
<text class="t" transform="translate(240.67,789.00) scale(0.9986,0.9920)" text-anchor="end">60</text>
<text class="t" transform="translate(240.58,611.00) scale(1.0183,0.9920)" text-anchor="end">70</text>
<text class="t" transform="translate(240.47,433.00) scale(0.9756,0.9920)" text-anchor="end">80</text>
<text class="t" transform="translate(240.57,255.00) scale(0.9812,0.9920)" text-anchor="end">90</text>
<text class="t" transform="translate(240.70,77.00) scale(0.9832,0.9920)" text-anchor="end">100</text>
<text class="t" transform="translate(268.13,1927.40) scale(0.9794,0.9920)" text-anchor="middle">0</text>
<text class="t" transform="translate(623.49,1927.40) scale(0.9857,0.9920)" text-anchor="middle">0.05</text>
<text class="t" transform="translate(978.77,1927.40) scale(0.9418,0.9920)" text-anchor="middle">0.1</text>
<text class="t" transform="translate(1336.43,1927.40) scale(0.9849,0.9920)" text-anchor="middle">0.15</text>
<text class="t" transform="translate(1694.74,1927.40) scale(1.0075,0.9920)" text-anchor="middle">0.2</text>
<text class="t" transform="translate(2049.50,1927.40) scale(0.9836,0.9920)" text-anchor="middle">0.25</text>
<text class="l" transform="translate(1160.80,2028.60) scale(1,1)" text-anchor="middle">strain</text>
<text class="l" transform="translate(92.70,945.20) rotate(-90) scale(1,1)" text-anchor="middle">Stress (GPa)</text>
<path d="M346.0,165.5 H484.1" stroke="#000000" stroke-width="13" fill="none" shape-rendering="crispEdges"/>
<text class="g" transform="translate(496.20,188.80) scale(1,0.975)">Pristine CGNR</text>
<path d="M346.0,254.8 H484.1" stroke="#008000" stroke-width="13" fill="none" shape-rendering="crispEdges"/>
<text class="g" transform="translate(496.20,278.10) scale(1,0.975)">DV 1</text>
<path d="M346.0,344.1 H484.1" stroke="#ff0000" stroke-width="13" fill="none" shape-rendering="crispEdges"/>
<text class="g" transform="translate(496.20,367.40) scale(1,0.975)">DV 2</text>
<path d="M346.0,433.4 H484.1" stroke="#bf00bf" stroke-width="13" fill="none" shape-rendering="crispEdges"/>
<text class="g" transform="translate(496.20,456.70) scale(1,0.975)">DV 3</text>
<path d="M346.0,522.7 H484.1" stroke="#ff00ff" stroke-width="13" fill="none" shape-rendering="crispEdges"/>
<text class="g" transform="translate(496.20,546.00) scale(1,0.975)">DV 4</text>
<path d="M346.0,612.0 H484.1" stroke="#0000ff" stroke-width="13" fill="none" shape-rendering="crispEdges"/>
<text class="g" transform="translate(496.20,635.30) scale(1,0.975)">DV 5</text>
<path d="M346.0,701.3 H484.1" stroke="#00ffff" stroke-width="13" fill="none" shape-rendering="crispEdges"/>
<text class="g" transform="translate(496.20,724.60) scale(1,0.975)">DV 6</text>
</svg></body></html>
